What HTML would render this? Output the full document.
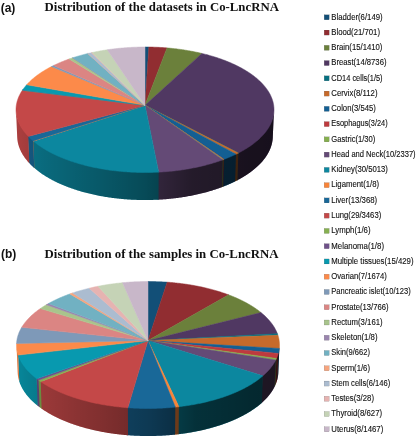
<!DOCTYPE html>
<html><head><meta charset="utf-8"><style>
html,body{margin:0;padding:0;background:#fff;}
body{width:417px;height:440px;overflow:hidden;}
svg{display:block;will-change:transform;}
</style></head><body>
<svg width="417" height="440" viewBox="0 0 417 440">
<defs><linearGradient id="shA" gradientUnits="userSpaceOnUse" x1="16.03" y1="0" x2="273.97" y2="0"><stop offset="0.0000" stop-color="#000" stop-opacity="0.129"/><stop offset="0.0000" stop-color="#000" stop-opacity="0.129"/><stop offset="0.0000" stop-color="#000" stop-opacity="0.129"/><stop offset="0.0000" stop-color="#000" stop-opacity="0.129"/><stop offset="0.0002" stop-color="#000" stop-opacity="0.129"/><stop offset="0.0011" stop-color="#000" stop-opacity="0.131"/><stop offset="0.0026" stop-color="#000" stop-opacity="0.132"/><stop offset="0.0047" stop-color="#000" stop-opacity="0.134"/><stop offset="0.0075" stop-color="#000" stop-opacity="0.135"/><stop offset="0.0109" stop-color="#000" stop-opacity="0.137"/><stop offset="0.0149" stop-color="#000" stop-opacity="0.138"/><stop offset="0.0196" stop-color="#000" stop-opacity="0.140"/><stop offset="0.0248" stop-color="#000" stop-opacity="0.147"/><stop offset="0.0307" stop-color="#000" stop-opacity="0.155"/><stop offset="0.0372" stop-color="#000" stop-opacity="0.162"/><stop offset="0.0444" stop-color="#000" stop-opacity="0.169"/><stop offset="0.0521" stop-color="#000" stop-opacity="0.177"/><stop offset="0.0604" stop-color="#000" stop-opacity="0.184"/><stop offset="0.0693" stop-color="#000" stop-opacity="0.191"/><stop offset="0.0789" stop-color="#000" stop-opacity="0.199"/><stop offset="0.0889" stop-color="#000" stop-opacity="0.206"/><stop offset="0.0996" stop-color="#000" stop-opacity="0.213"/><stop offset="0.1108" stop-color="#000" stop-opacity="0.221"/><stop offset="0.1226" stop-color="#000" stop-opacity="0.228"/><stop offset="0.1348" stop-color="#000" stop-opacity="0.235"/><stop offset="0.1476" stop-color="#000" stop-opacity="0.243"/><stop offset="0.1609" stop-color="#000" stop-opacity="0.250"/><stop offset="0.1747" stop-color="#000" stop-opacity="0.259"/><stop offset="0.1889" stop-color="#000" stop-opacity="0.268"/><stop offset="0.2036" stop-color="#000" stop-opacity="0.277"/><stop offset="0.2187" stop-color="#000" stop-opacity="0.286"/><stop offset="0.2342" stop-color="#000" stop-opacity="0.295"/><stop offset="0.2502" stop-color="#000" stop-opacity="0.304"/><stop offset="0.2664" stop-color="#000" stop-opacity="0.313"/><stop offset="0.2830" stop-color="#000" stop-opacity="0.322"/><stop offset="0.3000" stop-color="#000" stop-opacity="0.331"/><stop offset="0.3172" stop-color="#000" stop-opacity="0.340"/><stop offset="0.3347" stop-color="#000" stop-opacity="0.351"/><stop offset="0.3524" stop-color="#000" stop-opacity="0.362"/><stop offset="0.3704" stop-color="#000" stop-opacity="0.373"/><stop offset="0.3885" stop-color="#000" stop-opacity="0.384"/><stop offset="0.4069" stop-color="#000" stop-opacity="0.395"/><stop offset="0.4253" stop-color="#000" stop-opacity="0.406"/><stop offset="0.4439" stop-color="#000" stop-opacity="0.417"/><stop offset="0.4626" stop-color="#000" stop-opacity="0.428"/><stop offset="0.4813" stop-color="#000" stop-opacity="0.439"/><stop offset="0.5000" stop-color="#000" stop-opacity="0.450"/><stop offset="0.5187" stop-color="#000" stop-opacity="0.469"/><stop offset="0.5374" stop-color="#000" stop-opacity="0.488"/><stop offset="0.5561" stop-color="#000" stop-opacity="0.507"/><stop offset="0.5747" stop-color="#000" stop-opacity="0.526"/><stop offset="0.5931" stop-color="#000" stop-opacity="0.545"/><stop offset="0.6115" stop-color="#000" stop-opacity="0.564"/><stop offset="0.6296" stop-color="#000" stop-opacity="0.583"/><stop offset="0.6476" stop-color="#000" stop-opacity="0.602"/><stop offset="0.6653" stop-color="#000" stop-opacity="0.621"/><stop offset="0.6828" stop-color="#000" stop-opacity="0.640"/><stop offset="0.7000" stop-color="#000" stop-opacity="0.644"/><stop offset="0.7170" stop-color="#000" stop-opacity="0.648"/><stop offset="0.7336" stop-color="#000" stop-opacity="0.652"/><stop offset="0.7498" stop-color="#000" stop-opacity="0.656"/><stop offset="0.7658" stop-color="#000" stop-opacity="0.660"/><stop offset="0.7813" stop-color="#000" stop-opacity="0.664"/><stop offset="0.7964" stop-color="#000" stop-opacity="0.668"/><stop offset="0.8111" stop-color="#000" stop-opacity="0.672"/><stop offset="0.8253" stop-color="#000" stop-opacity="0.676"/><stop offset="0.8391" stop-color="#000" stop-opacity="0.680"/><stop offset="0.8524" stop-color="#000" stop-opacity="0.684"/><stop offset="0.8652" stop-color="#000" stop-opacity="0.688"/><stop offset="0.8774" stop-color="#000" stop-opacity="0.692"/><stop offset="0.8892" stop-color="#000" stop-opacity="0.696"/><stop offset="0.9004" stop-color="#000" stop-opacity="0.700"/><stop offset="0.9111" stop-color="#000" stop-opacity="0.701"/><stop offset="0.9211" stop-color="#000" stop-opacity="0.702"/><stop offset="0.9307" stop-color="#000" stop-opacity="0.703"/><stop offset="0.9396" stop-color="#000" stop-opacity="0.703"/><stop offset="0.9479" stop-color="#000" stop-opacity="0.704"/><stop offset="0.9556" stop-color="#000" stop-opacity="0.705"/><stop offset="0.9628" stop-color="#000" stop-opacity="0.706"/><stop offset="0.9693" stop-color="#000" stop-opacity="0.707"/><stop offset="0.9752" stop-color="#000" stop-opacity="0.708"/><stop offset="0.9804" stop-color="#000" stop-opacity="0.709"/><stop offset="0.9851" stop-color="#000" stop-opacity="0.710"/><stop offset="0.9891" stop-color="#000" stop-opacity="0.710"/><stop offset="0.9925" stop-color="#000" stop-opacity="0.711"/><stop offset="0.9953" stop-color="#000" stop-opacity="0.712"/><stop offset="0.9974" stop-color="#000" stop-opacity="0.713"/><stop offset="0.9989" stop-color="#000" stop-opacity="0.714"/><stop offset="0.9998" stop-color="#000" stop-opacity="0.715"/><stop offset="1.0000" stop-color="#000" stop-opacity="0.715"/><stop offset="1.0000" stop-color="#000" stop-opacity="0.715"/><stop offset="1.0000" stop-color="#000" stop-opacity="0.715"/><stop offset="1.0000" stop-color="#000" stop-opacity="0.715"/><stop offset="1.0000" stop-color="#000" stop-opacity="0.715"/></linearGradient><linearGradient id="shB" gradientUnits="userSpaceOnUse" x1="16.53" y1="0" x2="279.47" y2="0"><stop offset="0.0000" stop-color="#000" stop-opacity="0.129"/><stop offset="0.0000" stop-color="#000" stop-opacity="0.129"/><stop offset="0.0000" stop-color="#000" stop-opacity="0.129"/><stop offset="0.0000" stop-color="#000" stop-opacity="0.129"/><stop offset="0.0002" stop-color="#000" stop-opacity="0.129"/><stop offset="0.0011" stop-color="#000" stop-opacity="0.131"/><stop offset="0.0027" stop-color="#000" stop-opacity="0.132"/><stop offset="0.0049" stop-color="#000" stop-opacity="0.134"/><stop offset="0.0077" stop-color="#000" stop-opacity="0.135"/><stop offset="0.0111" stop-color="#000" stop-opacity="0.137"/><stop offset="0.0151" stop-color="#000" stop-opacity="0.138"/><stop offset="0.0198" stop-color="#000" stop-opacity="0.140"/><stop offset="0.0251" stop-color="#000" stop-opacity="0.147"/><stop offset="0.0310" stop-color="#000" stop-opacity="0.155"/><stop offset="0.0375" stop-color="#000" stop-opacity="0.162"/><stop offset="0.0447" stop-color="#000" stop-opacity="0.169"/><stop offset="0.0524" stop-color="#000" stop-opacity="0.177"/><stop offset="0.0608" stop-color="#000" stop-opacity="0.184"/><stop offset="0.0697" stop-color="#000" stop-opacity="0.191"/><stop offset="0.0792" stop-color="#000" stop-opacity="0.199"/><stop offset="0.0893" stop-color="#000" stop-opacity="0.206"/><stop offset="0.1000" stop-color="#000" stop-opacity="0.213"/><stop offset="0.1112" stop-color="#000" stop-opacity="0.221"/><stop offset="0.1230" stop-color="#000" stop-opacity="0.228"/><stop offset="0.1352" stop-color="#000" stop-opacity="0.235"/><stop offset="0.1480" stop-color="#000" stop-opacity="0.243"/><stop offset="0.1613" stop-color="#000" stop-opacity="0.250"/><stop offset="0.1751" stop-color="#000" stop-opacity="0.259"/><stop offset="0.1893" stop-color="#000" stop-opacity="0.268"/><stop offset="0.2040" stop-color="#000" stop-opacity="0.277"/><stop offset="0.2191" stop-color="#000" stop-opacity="0.286"/><stop offset="0.2346" stop-color="#000" stop-opacity="0.295"/><stop offset="0.2505" stop-color="#000" stop-opacity="0.304"/><stop offset="0.2668" stop-color="#000" stop-opacity="0.313"/><stop offset="0.2834" stop-color="#000" stop-opacity="0.322"/><stop offset="0.3003" stop-color="#000" stop-opacity="0.331"/><stop offset="0.3175" stop-color="#000" stop-opacity="0.340"/><stop offset="0.3350" stop-color="#000" stop-opacity="0.351"/><stop offset="0.3527" stop-color="#000" stop-opacity="0.362"/><stop offset="0.3706" stop-color="#000" stop-opacity="0.373"/><stop offset="0.3887" stop-color="#000" stop-opacity="0.384"/><stop offset="0.4070" stop-color="#000" stop-opacity="0.395"/><stop offset="0.4254" stop-color="#000" stop-opacity="0.406"/><stop offset="0.4440" stop-color="#000" stop-opacity="0.417"/><stop offset="0.4626" stop-color="#000" stop-opacity="0.428"/><stop offset="0.4813" stop-color="#000" stop-opacity="0.439"/><stop offset="0.5000" stop-color="#000" stop-opacity="0.450"/><stop offset="0.5187" stop-color="#000" stop-opacity="0.469"/><stop offset="0.5374" stop-color="#000" stop-opacity="0.488"/><stop offset="0.5560" stop-color="#000" stop-opacity="0.507"/><stop offset="0.5746" stop-color="#000" stop-opacity="0.526"/><stop offset="0.5930" stop-color="#000" stop-opacity="0.545"/><stop offset="0.6113" stop-color="#000" stop-opacity="0.564"/><stop offset="0.6294" stop-color="#000" stop-opacity="0.583"/><stop offset="0.6473" stop-color="#000" stop-opacity="0.602"/><stop offset="0.6650" stop-color="#000" stop-opacity="0.621"/><stop offset="0.6825" stop-color="#000" stop-opacity="0.640"/><stop offset="0.6997" stop-color="#000" stop-opacity="0.644"/><stop offset="0.7166" stop-color="#000" stop-opacity="0.648"/><stop offset="0.7332" stop-color="#000" stop-opacity="0.652"/><stop offset="0.7495" stop-color="#000" stop-opacity="0.656"/><stop offset="0.7654" stop-color="#000" stop-opacity="0.660"/><stop offset="0.7809" stop-color="#000" stop-opacity="0.664"/><stop offset="0.7960" stop-color="#000" stop-opacity="0.668"/><stop offset="0.8107" stop-color="#000" stop-opacity="0.672"/><stop offset="0.8249" stop-color="#000" stop-opacity="0.676"/><stop offset="0.8387" stop-color="#000" stop-opacity="0.680"/><stop offset="0.8520" stop-color="#000" stop-opacity="0.684"/><stop offset="0.8648" stop-color="#000" stop-opacity="0.688"/><stop offset="0.8770" stop-color="#000" stop-opacity="0.692"/><stop offset="0.8888" stop-color="#000" stop-opacity="0.696"/><stop offset="0.9000" stop-color="#000" stop-opacity="0.700"/><stop offset="0.9107" stop-color="#000" stop-opacity="0.701"/><stop offset="0.9208" stop-color="#000" stop-opacity="0.702"/><stop offset="0.9303" stop-color="#000" stop-opacity="0.703"/><stop offset="0.9392" stop-color="#000" stop-opacity="0.703"/><stop offset="0.9476" stop-color="#000" stop-opacity="0.704"/><stop offset="0.9553" stop-color="#000" stop-opacity="0.705"/><stop offset="0.9625" stop-color="#000" stop-opacity="0.706"/><stop offset="0.9690" stop-color="#000" stop-opacity="0.707"/><stop offset="0.9749" stop-color="#000" stop-opacity="0.708"/><stop offset="0.9802" stop-color="#000" stop-opacity="0.709"/><stop offset="0.9849" stop-color="#000" stop-opacity="0.710"/><stop offset="0.9889" stop-color="#000" stop-opacity="0.710"/><stop offset="0.9923" stop-color="#000" stop-opacity="0.711"/><stop offset="0.9951" stop-color="#000" stop-opacity="0.712"/><stop offset="0.9973" stop-color="#000" stop-opacity="0.713"/><stop offset="0.9989" stop-color="#000" stop-opacity="0.714"/><stop offset="0.9998" stop-color="#000" stop-opacity="0.715"/><stop offset="1.0000" stop-color="#000" stop-opacity="0.715"/><stop offset="1.0000" stop-color="#000" stop-opacity="0.715"/><stop offset="1.0000" stop-color="#000" stop-opacity="0.715"/><stop offset="1.0000" stop-color="#000" stop-opacity="0.715"/><stop offset="1.0000" stop-color="#000" stop-opacity="0.715"/></linearGradient></defs>
<rect width="417" height="440" fill="#fff"/>
<g style="font-family:'Liberation Sans',sans-serif;font-weight:bold;font-size:12px" fill="#111">
<text x="0.7" y="12.2">(a)</text>
<text x="1" y="257.5">(b)</text>
</g>
<g style="font-family:'Liberation Serif',serif;font-weight:bold;font-size:13.4px" fill="#111">
<text x="44.6" y="10.8" textLength="234.3" lengthAdjust="spacingAndGlyphs">Distribution of the datasets in Co-LncRNA</text>
<text x="44.6" y="257.8" textLength="233.9" lengthAdjust="spacingAndGlyphs">Distribution of the samples in Co-LncRNA</text>
</g>
<g>
<path d="M273.97,109.93 L273.94,110.47 L273.9,111.02 L273.85,111.56 L273.79,112.1 L273.72,112.65 L273.65,113.19 L273.56,113.74 L273.46,114.28 L273.35,114.82 L273.24,115.37 L273.11,115.91 L272.97,116.46 L272.83,117 L272.67,117.54 L272.5,118.08 L272.33,118.63 L272.14,119.17 L271.94,119.71 L271.74,120.25 L271.52,120.79 L271.3,121.33 L271.06,121.87 L270.82,122.41 L270.56,122.94 L270.3,123.48 L270.02,124.01 L269.74,124.55 L269.44,125.08 L269.14,125.62 L268.82,126.15 L268.5,126.68 L268.17,127.21 L267.82,127.74 L267.47,128.26 L267.1,128.79 L266.73,129.32 L266.35,129.84 L265.96,130.36 L265.55,130.88 L265.14,131.4 L264.72,131.92 L264.29,132.44 L263.85,132.95 L263.4,133.46 L262.94,133.97 L262.47,134.48 L261.99,134.99 L261.5,135.5 L261,136 L260.49,136.5 L259.98,137 L259.45,137.5 L258.91,138 L258.37,138.49 L257.81,138.98 L257.25,139.47 L256.67,139.96 L256.09,140.45 L255.5,140.93 L254.9,141.41 L254.29,141.89 L253.67,142.37 L253.04,142.84 L252.4,143.31 L251.75,143.78 L251.1,144.24 L250.43,144.71 L249.76,145.17 L249.08,145.63 L248.38,146.08 L247.68,146.53 L246.98,146.98 L246.26,147.43 L245.53,147.87 L244.8,148.31 L244.05,148.75 L243.3,149.18 L242.54,149.61 L241.78,150.04 L241,150.47 L240.21,150.89 L239.42,151.31 L238.62,151.72 L237.81,152.13 L236.92,180.47 L237.72,180.05 L238.51,179.62 L239.3,179.2 L240.07,178.77 L240.84,178.33 L241.6,177.9 L242.36,177.46 L243.1,177.02 L243.84,176.57 L244.57,176.12 L245.29,175.67 L246,175.22 L246.7,174.76 L247.39,174.3 L248.08,173.83 L248.75,173.37 L249.42,172.9 L250.08,172.43 L250.73,171.95 L251.37,171.47 L252,170.99 L252.63,170.51 L253.24,170.03 L253.85,169.54 L254.44,169.05 L255.03,168.56 L255.61,168.06 L256.18,167.56 L256.74,167.06 L257.29,166.56 L257.83,166.06 L258.36,165.55 L258.88,165.04 L259.4,164.53 L259.9,164.02 L260.39,163.51 L260.88,162.99 L261.36,162.47 L261.82,161.95 L262.28,161.43 L262.72,160.91 L263.16,160.39 L263.59,159.86 L264.01,159.33 L264.42,158.8 L264.82,158.27 L265.21,157.74 L265.59,157.2 L265.96,156.67 L266.32,156.13 L266.67,155.59 L267.01,155.06 L267.34,154.51 L267.66,153.97 L267.97,153.43 L268.28,152.89 L268.57,152.34 L268.85,151.8 L269.12,151.25 L269.39,150.7 L269.64,150.16 L269.88,149.61 L270.12,149.06 L270.34,148.51 L270.56,147.96 L270.76,147.41 L270.96,146.85 L271.14,146.3 L271.32,145.75 L271.48,145.2 L271.64,144.64 L271.78,144.09 L271.92,143.53 L272.05,142.98 L272.16,142.42 L272.27,141.87 L272.37,141.31 L272.46,140.76 L272.53,140.2 L272.6,139.65 L272.66,139.09 L272.71,138.54 L272.75,137.98 L272.78,137.43 Z" fill="#503862"/>
<path d="M238.47,151.8 L237.71,152.18 L236.81,180.52 L237.56,180.13 Z" fill="#077080"/>
<path d="M238.37,151.85 L237.63,152.22 L236.89,152.59 L236.14,152.96 L235.39,153.32 L234.52,181.68 L235.26,181.31 L236,180.93 L236.74,180.56 L237.46,180.18 Z" fill="#c66a2b"/>
<path d="M236.06,153 L235.26,153.38 L234.44,153.77 L233.62,154.15 L232.8,154.52 L231.96,154.9 L231.12,155.27 L230.27,155.63 L229.42,156 L228.56,156.36 L227.69,156.71 L226.81,157.07 L225.93,157.42 L225.04,157.76 L224.14,158.1 L223.24,158.44 L222.48,186.9 L223.38,186.55 L224.26,186.2 L225.14,185.85 L226.02,185.5 L226.89,185.14 L227.75,184.77 L228.6,184.41 L229.45,184.04 L230.29,183.66 L231.12,183.29 L231.95,182.9 L232.77,182.52 L233.58,182.13 L234.39,181.74 L235.18,181.35 Z" fill="#135f93"/>
<path d="M224,158.16 L223.34,158.4 L222.68,158.65 L221.92,187.11 L222.58,186.86 L223.23,186.61 Z" fill="#be3a3e"/>
<path d="M223.44,158.37 L222.7,158.64 L221.97,158.91 L221.22,187.37 L221.95,187.1 L222.67,186.82 Z" fill="#85af4e"/>
<path d="M222.73,158.63 L221.78,158.98 L220.82,159.32 L219.85,159.66 L218.88,159.99 L217.9,160.32 L216.92,160.64 L215.93,160.96 L214.93,161.28 L213.92,161.59 L212.91,161.9 L211.89,162.2 L210.87,162.5 L209.84,162.8 L208.81,163.09 L207.77,163.37 L206.72,163.65 L205.67,163.93 L204.61,164.2 L203.55,164.46 L202.48,164.73 L201.41,164.98 L200.33,165.24 L199.24,165.48 L198.16,165.72 L197.06,165.96 L195.96,166.2 L194.86,166.42 L193.75,166.65 L192.64,166.86 L191.53,167.08 L190.41,167.28 L189.28,167.49 L188.15,167.68 L187.02,167.88 L185.88,168.07 L184.74,168.25 L183.6,168.43 L182.45,168.6 L181.3,168.76 L180.15,168.93 L178.99,169.08 L177.83,169.23 L176.66,169.38 L175.5,169.52 L174.33,169.66 L173.16,169.79 L171.98,169.91 L170.8,170.03 L169.62,170.15 L168.44,170.26 L167.26,170.36 L166.07,170.46 L164.88,170.55 L163.69,170.64 L162.5,170.72 L161.31,170.8 L160.11,170.87 L158.92,170.93 L157.72,170.99 L157.59,199.69 L158.78,199.63 L159.96,199.56 L161.15,199.49 L162.33,199.41 L163.51,199.33 L164.69,199.24 L165.86,199.14 L167.04,199.04 L168.21,198.94 L169.38,198.82 L170.55,198.71 L171.71,198.59 L172.88,198.46 L174.04,198.33 L175.2,198.19 L176.35,198.04 L177.5,197.9 L178.65,197.74 L179.8,197.58 L180.94,197.42 L182.08,197.25 L183.22,197.07 L184.35,196.89 L185.48,196.7 L186.61,196.51 L187.73,196.32 L188.85,196.12 L189.96,195.91 L191.07,195.7 L192.18,195.48 L193.28,195.26 L194.37,195.03 L195.47,194.8 L196.55,194.56 L197.64,194.32 L198.71,194.07 L199.79,193.82 L200.86,193.56 L201.92,193.3 L202.98,193.04 L204.03,192.76 L205.08,192.49 L206.12,192.21 L207.15,191.92 L208.18,191.63 L209.21,191.34 L210.23,191.04 L211.24,190.73 L212.25,190.42 L213.25,190.11 L214.25,189.79 L215.23,189.47 L216.22,189.14 L217.19,188.81 L218.16,188.47 L219.13,188.13 L220.08,187.79 L221.03,187.44 L221.97,187.09 Z" fill="#644a76"/>
<path d="M158.68,170.95 L157.49,171.01 L156.29,171.06 L155.09,171.11 L153.9,171.15 L152.7,171.19 L151.5,171.22 L150.3,171.25 L149.1,171.27 L147.9,171.28 L146.7,171.29 L145.5,171.3 L144.3,171.3 L143.09,171.29 L141.89,171.28 L140.69,171.27 L139.49,171.24 L138.29,171.22 L137.09,171.18 L135.9,171.14 L134.7,171.1 L133.5,171.05 L132.31,171 L131.11,170.94 L129.92,170.87 L128.73,170.8 L127.54,170.72 L126.35,170.64 L125.16,170.55 L123.98,170.46 L122.8,170.36 L121.61,170.26 L120.44,170.15 L119.26,170.04 L118.08,169.92 L116.91,169.79 L115.74,169.66 L114.58,169.53 L113.41,169.39 L112.25,169.24 L111.1,169.09 L109.94,168.94 L108.79,168.78 L107.64,168.61 L106.5,168.44 L105.36,168.26 L104.22,168.08 L103.09,167.9 L101.96,167.7 L100.83,167.51 L99.71,167.31 L98.59,167.1 L97.48,166.89 L96.37,166.67 L95.26,166.45 L94.16,166.22 L93.07,165.99 L91.98,165.75 L90.89,165.51 L89.81,165.27 L88.73,165.02 L87.66,164.76 L86.6,164.5 L85.54,164.24 L84.48,163.97 L83.43,163.69 L82.39,163.41 L81.35,163.13 L80.32,162.84 L79.29,162.55 L78.27,162.25 L77.25,161.95 L76.24,161.64 L75.24,161.33 L74.24,161.02 L73.25,160.7 L72.27,160.38 L71.29,160.05 L70.32,159.72 L69.36,159.38 L68.4,159.04 L67.45,158.7 L66.51,158.35 L65.57,157.99 L64.64,157.64 L63.72,157.28 L62.8,156.91 L61.9,156.54 L60.99,156.17 L60.1,155.79 L59.22,155.41 L58.34,155.03 L57.47,154.64 L56.6,154.25 L55.75,153.86 L54.9,153.46 L54.06,153.06 L53.23,152.65 L52.41,152.24 L51.59,151.83 L50.78,151.41 L49.99,150.99 L49.19,150.57 L48.41,150.14 L47.64,149.72 L46.87,149.28 L46.12,148.85 L45.37,148.41 L44.63,147.97 L43.89,147.52 L43.17,147.07 L42.46,146.62 L41.75,146.17 L41.06,145.71 L40.37,145.25 L39.69,144.79 L39.02,144.33 L38.36,143.86 L37.71,143.39 L37.06,142.92 L36.43,142.44 L35.81,141.96 L35.19,141.48 L34.59,141 L33.99,140.51 L33.4,140.03 L32.82,139.54 L33.89,167.63 L34.47,168.12 L35.05,168.62 L35.64,169.12 L36.24,169.61 L36.85,170.1 L37.47,170.59 L38.1,171.07 L38.73,171.55 L39.38,172.03 L40.03,172.51 L40.7,172.98 L41.37,173.45 L42.05,173.92 L42.74,174.39 L43.44,174.85 L44.15,175.31 L44.87,175.77 L45.59,176.22 L46.32,176.67 L47.07,177.12 L47.82,177.56 L48.58,178 L49.34,178.44 L50.12,178.87 L50.9,179.31 L51.69,179.73 L52.49,180.16 L53.3,180.58 L54.12,180.99 L54.94,181.41 L55.77,181.82 L56.61,182.22 L57.46,182.63 L58.31,183.03 L59.18,183.42 L60.05,183.81 L60.92,184.2 L61.81,184.58 L62.7,184.96 L63.6,185.34 L64.51,185.71 L65.42,186.08 L66.34,186.44 L67.27,186.8 L68.2,187.16 L69.15,187.51 L70.09,187.85 L71.05,188.2 L72.01,188.53 L72.98,188.87 L73.95,189.2 L74.93,189.52 L75.92,189.84 L76.91,190.16 L77.91,190.47 L78.92,190.78 L79.93,191.08 L80.95,191.38 L81.97,191.67 L83,191.96 L84.03,192.25 L85.07,192.53 L86.12,192.8 L87.17,193.07 L88.22,193.34 L89.28,193.6 L90.35,193.85 L91.42,194.1 L92.5,194.35 L93.58,194.59 L94.66,194.83 L95.75,195.06 L96.84,195.28 L97.94,195.5 L99.05,195.72 L100.15,195.93 L101.26,196.14 L102.38,196.34 L103.5,196.53 L104.62,196.72 L105.75,196.91 L106.88,197.09 L108.01,197.26 L109.15,197.43 L110.29,197.59 L111.43,197.75 L112.58,197.91 L113.72,198.05 L114.88,198.2 L116.03,198.33 L117.19,198.47 L118.35,198.59 L119.51,198.71 L120.68,198.83 L121.84,198.94 L123.01,199.05 L124.18,199.15 L125.36,199.24 L126.53,199.33 L127.71,199.41 L128.89,199.49 L130.07,199.56 L131.25,199.63 L132.43,199.69 L133.62,199.75 L134.8,199.8 L135.99,199.84 L137.17,199.88 L138.36,199.91 L139.55,199.94 L140.74,199.96 L141.92,199.98 L143.11,199.99 L144.3,200 L145.49,200 L146.68,199.99 L147.87,199.98 L149.06,199.97 L150.25,199.95 L151.43,199.92 L152.62,199.89 L153.81,199.85 L154.99,199.8 L156.18,199.75 L157.36,199.7 L158.55,199.64 Z" fill="#0c879f"/>
<path d="M33.29,139.93 L32.71,139.44 L33.78,167.53 L34.35,168.03 Z" fill="#f88439"/>
<path d="M33.17,139.83 L32.6,139.34 L32.03,138.85 L31.48,138.35 L30.93,137.86 L30.4,137.36 L29.87,136.86 L29.35,136.35 L28.85,135.85 L28.35,135.34 L27.86,134.83 L28.97,162.83 L29.45,163.35 L29.95,163.87 L30.45,164.38 L30.96,164.89 L31.49,165.4 L32.02,165.91 L32.56,166.42 L33.11,166.93 L33.67,167.43 L34.24,167.93 Z" fill="#196898"/>
<path d="M28.25,135.24 L27.76,134.73 L27.28,134.22 L26.81,133.7 L26.35,133.18 L25.9,132.66 L25.46,132.14 L25.03,131.62 L24.61,131.1 L24.2,130.57 L23.8,130.04 L23.41,129.51 L23.03,128.98 L22.66,128.45 L22.3,127.92 L21.95,127.39 L21.61,126.85 L21.28,126.32 L20.96,125.78 L20.65,125.24 L20.35,124.7 L20.06,124.16 L19.78,123.62 L19.51,123.08 L19.24,122.54 L18.99,121.99 L18.75,121.45 L18.52,120.9 L18.3,120.36 L18.09,119.81 L17.89,119.26 L17.7,118.72 L17.52,118.17 L17.36,117.62 L17.2,117.07 L17.05,116.52 L16.91,115.98 L16.78,115.43 L16.66,114.88 L16.55,114.33 L16.45,113.78 L16.36,113.23 L16.28,112.68 L16.21,112.13 L16.15,111.58 L16.1,111.03 L16.06,110.48 L16.03,109.93 L17.22,137.43 L17.25,137.99 L17.29,138.55 L17.34,139.11 L17.4,139.67 L17.47,140.23 L17.55,140.79 L17.64,141.36 L17.74,141.92 L17.85,142.48 L17.97,143.04 L18.1,143.6 L18.23,144.16 L18.38,144.72 L18.54,145.28 L18.71,145.84 L18.89,146.39 L19.08,146.95 L19.28,147.51 L19.49,148.07 L19.7,148.62 L19.93,149.18 L20.17,149.74 L20.42,150.29 L20.68,150.84 L20.95,151.4 L21.23,151.95 L21.51,152.5 L21.81,153.05 L22.12,153.6 L22.44,154.15 L22.77,154.69 L23.11,155.24 L23.45,155.78 L23.81,156.32 L24.18,156.87 L24.56,157.41 L24.95,157.95 L25.34,158.48 L25.75,159.02 L26.17,159.55 L26.59,160.09 L27.03,160.62 L27.48,161.15 L27.93,161.68 L28.4,162.2 L28.87,162.73 L29.36,163.25 Z" fill="#c44848"/>
<path d="M273.97,109.93 L273.94,110.48 L273.9,111.03 L273.85,111.58 L273.79,112.13 L273.72,112.68 L273.64,113.23 L273.55,113.78 L273.45,114.33 L273.34,114.88 L273.22,115.43 L273.09,115.98 L272.95,116.52 L272.8,117.07 L272.64,117.62 L272.47,118.17 L272.3,118.72 L272.11,119.27 L271.91,119.81 L271.7,120.36 L271.48,120.9 L271.25,121.45 L271.01,121.99 L270.75,122.54 L270.49,123.08 L270.22,123.62 L269.94,124.16 L269.65,124.7 L269.35,125.24 L269.04,125.78 L268.72,126.32 L268.39,126.85 L268.05,127.39 L267.7,127.92 L267.34,128.45 L266.97,128.99 L266.59,129.52 L266.2,130.04 L265.8,130.57 L265.39,131.1 L264.96,131.62 L264.53,132.14 L264.09,132.66 L263.64,133.18 L263.18,133.7 L262.71,134.22 L262.23,134.73 L261.75,135.24 L261.25,135.75 L260.74,136.26 L260.22,136.77 L259.69,137.27 L259.15,137.78 L258.61,138.28 L258.05,138.78 L257.48,139.27 L256.91,139.76 L256.32,140.26 L255.73,140.75 L255.12,141.23 L254.51,141.72 L253.89,142.2 L253.25,142.68 L252.61,143.15 L251.96,143.63 L251.3,144.1 L250.63,144.57 L249.95,145.03 L249.27,145.5 L248.57,145.96 L247.87,146.42 L247.15,146.87 L246.43,147.32 L245.7,147.77 L244.96,148.22 L244.21,148.66 L243.45,149.1 L242.68,149.53 L241.91,149.97 L241.12,150.4 L240.33,150.82 L239.53,151.25 L238.72,151.67 L237.91,152.08 L237.08,152.5 L236.25,152.9 L235.41,153.31 L234.56,153.71 L233.7,154.11 L232.84,154.51 L231.97,154.9 L231.09,155.28 L230.2,155.67 L229.3,156.05 L228.4,156.42 L227.49,156.79 L226.57,157.16 L225.65,157.53 L224.71,157.89 L223.77,158.24 L222.83,158.59 L221.87,158.94 L220.91,159.28 L219.94,159.62 L218.97,159.96 L217.99,160.29 L217,160.62 L216.01,160.94 L215.01,161.26 L214,161.57 L212.99,161.88 L211.97,162.18 L210.94,162.48 L209.91,162.78 L208.88,163.07 L207.83,163.35 L206.78,163.63 L205.73,163.91 L204.67,164.18 L203.6,164.45 L202.53,164.71 L201.46,164.97 L200.38,165.22 L199.29,165.47 L198.2,165.72 L197.1,165.95 L196,166.19 L194.9,166.42 L193.79,166.64 L192.67,166.86 L191.55,167.07 L190.43,167.28 L189.3,167.48 L188.17,167.68 L187.04,167.88 L185.9,168.06 L184.75,168.25 L183.61,168.42 L182.46,168.6 L181.3,168.76 L180.14,168.93 L178.98,169.08 L177.82,169.24 L176.65,169.38 L175.48,169.52 L174.31,169.66 L173.14,169.79 L171.96,169.91 L170.78,170.03 L169.59,170.15 L168.41,170.26 L167.22,170.36 L166.03,170.46 L164.84,170.55 L163.65,170.64 L162.45,170.72 L161.26,170.8 L160.06,170.87 L158.86,170.94 L157.66,171 L156.46,171.05 L155.25,171.1 L154.05,171.15 L152.84,171.18 L151.64,171.22 L150.43,171.24 L149.23,171.27 L148.02,171.28 L146.81,171.29 L145.6,171.3 L144.4,171.3 L143.19,171.29 L141.98,171.28 L140.77,171.27 L139.57,171.24 L138.36,171.22 L137.16,171.18 L135.95,171.15 L134.75,171.1 L133.54,171.05 L132.34,171 L131.14,170.94 L129.94,170.87 L128.74,170.8 L127.55,170.72 L126.35,170.64 L125.16,170.55 L123.97,170.46 L122.78,170.36 L121.59,170.26 L120.41,170.15 L119.22,170.03 L118.04,169.91 L116.86,169.79 L115.69,169.66 L114.52,169.52 L113.35,169.38 L112.18,169.24 L111.02,169.08 L109.86,168.93 L108.7,168.76 L107.54,168.6 L106.39,168.42 L105.25,168.25 L104.1,168.06 L102.96,167.88 L101.83,167.68 L100.7,167.48 L99.57,167.28 L98.45,167.07 L97.33,166.86 L96.21,166.64 L95.1,166.42 L94,166.19 L92.9,165.95 L91.8,165.72 L90.71,165.47 L89.62,165.22 L88.54,164.97 L87.47,164.71 L86.4,164.45 L85.33,164.18 L84.27,163.91 L83.22,163.63 L82.17,163.35 L81.12,163.07 L80.09,162.78 L79.06,162.48 L78.03,162.18 L77.01,161.88 L76,161.57 L74.99,161.26 L73.99,160.94 L73,160.62 L72.01,160.29 L71.03,159.96 L70.06,159.62 L69.09,159.28 L68.13,158.94 L67.17,158.59 L66.23,158.24 L65.29,157.89 L64.35,157.53 L63.43,157.16 L62.51,156.79 L61.6,156.42 L60.7,156.05 L59.8,155.67 L58.91,155.28 L58.03,154.9 L57.16,154.51 L56.3,154.11 L55.44,153.71 L54.59,153.31 L53.75,152.9 L52.92,152.5 L52.09,152.08 L51.28,151.67 L50.47,151.25 L49.67,150.82 L48.88,150.4 L48.09,149.97 L47.32,149.53 L46.55,149.1 L45.79,148.66 L45.04,148.22 L44.3,147.77 L43.57,147.32 L42.85,146.87 L42.13,146.42 L41.43,145.96 L40.73,145.5 L40.05,145.03 L39.37,144.57 L38.7,144.1 L38.04,143.63 L37.39,143.15 L36.75,142.68 L36.11,142.2 L35.49,141.72 L34.88,141.23 L34.27,140.75 L33.68,140.26 L33.09,139.76 L32.52,139.27 L31.95,138.78 L31.39,138.28 L30.85,137.78 L30.31,137.27 L29.78,136.77 L29.26,136.26 L28.75,135.75 L28.25,135.24 L27.77,134.73 L27.29,134.22 L26.82,133.7 L26.36,133.18 L25.91,132.66 L25.47,132.14 L25.04,131.62 L24.61,131.1 L24.2,130.57 L23.8,130.04 L23.41,129.52 L23.03,128.99 L22.66,128.45 L22.3,127.92 L21.95,127.39 L21.61,126.85 L21.28,126.32 L20.96,125.78 L20.65,125.24 L20.35,124.7 L20.06,124.16 L19.78,123.62 L19.51,123.08 L19.25,122.54 L18.99,121.99 L18.75,121.45 L18.52,120.9 L18.3,120.36 L18.09,119.81 L17.89,119.27 L17.7,118.72 L17.53,118.17 L17.36,117.62 L17.2,117.07 L17.05,116.52 L16.91,115.98 L16.78,115.43 L16.66,114.88 L16.55,114.33 L16.45,113.78 L16.36,113.23 L16.28,112.68 L16.21,112.13 L16.15,111.58 L16.1,111.03 L16.06,110.48 L16.03,109.93 L17.22,137.43 L17.25,137.99 L17.29,138.55 L17.34,139.11 L17.4,139.67 L17.47,140.23 L17.55,140.79 L17.64,141.36 L17.74,141.92 L17.85,142.48 L17.97,143.04 L18.1,143.6 L18.23,144.16 L18.38,144.72 L18.54,145.28 L18.71,145.84 L18.89,146.4 L19.08,146.95 L19.28,147.51 L19.49,148.07 L19.7,148.63 L19.93,149.18 L20.17,149.74 L20.42,150.29 L20.68,150.84 L20.95,151.4 L21.23,151.95 L21.51,152.5 L21.81,153.05 L22.12,153.6 L22.44,154.15 L22.77,154.69 L23.11,155.24 L23.45,155.78 L23.81,156.33 L24.18,156.87 L24.56,157.41 L24.95,157.95 L25.34,158.48 L25.75,159.02 L26.17,159.55 L26.59,160.09 L27.03,160.62 L27.48,161.15 L27.93,161.68 L28.4,162.2 L28.88,162.73 L29.36,163.25 L29.86,163.77 L30.36,164.29 L30.87,164.8 L31.4,165.32 L31.93,165.83 L32.47,166.34 L33.03,166.85 L33.59,167.36 L34.16,167.86 L34.74,168.36 L35.33,168.86 L35.93,169.35 L36.54,169.85 L37.15,170.34 L37.78,170.83 L38.42,171.31 L39.06,171.8 L39.72,172.28 L40.38,172.76 L41.05,173.23 L41.73,173.7 L42.42,174.17 L43.12,174.64 L43.83,175.1 L44.55,175.56 L45.27,176.02 L46,176.48 L46.75,176.93 L47.5,177.37 L48.26,177.82 L49.03,178.26 L49.8,178.7 L50.59,179.13 L51.38,179.56 L52.18,179.99 L52.99,180.42 L53.81,180.84 L54.63,181.25 L55.46,181.67 L56.31,182.08 L57.15,182.48 L58.01,182.89 L58.88,183.28 L59.75,183.68 L60.63,184.07 L61.52,184.46 L62.41,184.84 L63.31,185.22 L64.22,185.59 L65.14,185.96 L66.06,186.33 L66.99,186.69 L67.93,187.05 L68.87,187.41 L69.83,187.76 L70.78,188.1 L71.75,188.44 L72.72,188.78 L73.7,189.11 L74.68,189.44 L75.67,189.76 L76.67,190.08 L77.67,190.4 L78.68,190.71 L79.7,191.01 L80.72,191.31 L81.75,191.61 L82.78,191.9 L83.82,192.19 L84.86,192.47 L85.91,192.75 L86.97,193.02 L88.03,193.29 L89.09,193.55 L90.16,193.81 L91.24,194.06 L92.32,194.31 L93.41,194.55 L94.5,194.79 L95.59,195.02 L96.69,195.25 L97.79,195.47 L98.9,195.69 L100.02,195.9 L101.13,196.11 L102.25,196.31 L103.38,196.51 L104.51,196.7 L105.64,196.89 L106.77,197.07 L107.91,197.25 L109.06,197.42 L110.2,197.58 L111.35,197.74 L112.5,197.9 L113.66,198.05 L114.82,198.19 L115.98,198.33 L117.14,198.46 L118.31,198.59 L119.48,198.71 L120.65,198.83 L121.82,198.94 L123,199.04 L124.17,199.14 L125.35,199.24 L126.54,199.33 L127.72,199.41 L128.9,199.49 L130.09,199.56 L131.28,199.63 L132.47,199.69 L133.66,199.75 L134.85,199.8 L136.04,199.84 L137.23,199.88 L138.43,199.92 L139.62,199.94 L140.82,199.97 L142.01,199.98 L143.21,199.99 L144.4,200 L145.6,200 L146.79,199.99 L147.99,199.98 L149.18,199.97 L150.38,199.94 L151.57,199.92 L152.77,199.88 L153.96,199.84 L155.15,199.8 L156.34,199.75 L157.53,199.69 L158.72,199.63 L159.91,199.56 L161.1,199.49 L162.28,199.41 L163.46,199.33 L164.65,199.24 L165.83,199.14 L167,199.04 L168.18,198.94 L169.35,198.83 L170.52,198.71 L171.69,198.59 L172.86,198.46 L174.02,198.33 L175.18,198.19 L176.34,198.05 L177.5,197.9 L178.65,197.74 L179.8,197.58 L180.94,197.42 L182.09,197.25 L183.23,197.07 L184.36,196.89 L185.49,196.7 L186.62,196.51 L187.75,196.31 L188.87,196.11 L189.98,195.9 L191.1,195.69 L192.21,195.47 L193.31,195.25 L194.41,195.02 L195.5,194.79 L196.59,194.55 L197.68,194.31 L198.76,194.06 L199.84,193.81 L200.91,193.55 L201.97,193.29 L203.03,193.02 L204.09,192.75 L205.14,192.47 L206.18,192.19 L207.22,191.9 L208.25,191.61 L209.28,191.31 L210.3,191.01 L211.32,190.71 L212.33,190.4 L213.33,190.08 L214.33,189.76 L215.32,189.44 L216.3,189.11 L217.28,188.78 L218.25,188.44 L219.22,188.1 L220.17,187.76 L221.13,187.41 L222.07,187.05 L223.01,186.69 L223.94,186.33 L224.86,185.96 L225.78,185.59 L226.69,185.22 L227.59,184.84 L228.48,184.46 L229.37,184.07 L230.25,183.68 L231.12,183.28 L231.99,182.89 L232.85,182.48 L233.69,182.08 L234.54,181.67 L235.37,181.25 L236.19,180.84 L237.01,180.42 L237.82,179.99 L238.62,179.56 L239.41,179.13 L240.2,178.7 L240.97,178.26 L241.74,177.82 L242.5,177.37 L243.25,176.93 L244,176.48 L244.73,176.02 L245.45,175.56 L246.17,175.1 L246.88,174.64 L247.58,174.17 L248.27,173.7 L248.95,173.23 L249.62,172.76 L250.28,172.28 L250.94,171.8 L251.58,171.31 L252.22,170.83 L252.85,170.34 L253.46,169.85 L254.07,169.35 L254.67,168.86 L255.26,168.36 L255.84,167.86 L256.41,167.36 L256.97,166.85 L257.53,166.34 L258.07,165.83 L258.6,165.32 L259.13,164.8 L259.64,164.29 L260.14,163.77 L260.64,163.25 L261.12,162.73 L261.6,162.2 L262.07,161.68 L262.52,161.15 L262.97,160.62 L263.41,160.09 L263.83,159.55 L264.25,159.02 L264.66,158.48 L265.05,157.95 L265.44,157.41 L265.82,156.87 L266.19,156.33 L266.55,155.78 L266.89,155.24 L267.23,154.69 L267.56,154.15 L267.88,153.6 L268.19,153.05 L268.49,152.5 L268.77,151.95 L269.05,151.4 L269.32,150.84 L269.58,150.29 L269.83,149.74 L270.07,149.18 L270.3,148.63 L270.51,148.07 L270.72,147.51 L270.92,146.95 L271.11,146.4 L271.29,145.84 L271.46,145.28 L271.62,144.72 L271.77,144.16 L271.9,143.6 L272.03,143.04 L272.15,142.48 L272.26,141.92 L272.36,141.36 L272.45,140.79 L272.53,140.23 L272.6,139.67 L272.66,139.11 L272.71,138.55 L272.75,137.99 L272.78,137.43 Z" fill="url(#shA)"/>
<path d="M145,105.3 L145,47 L145.97,47 L146.94,47.01 L147.91,47.02 L148.88,47.03 Z" fill="#124f77" stroke="#124f77" stroke-width="0.5" stroke-linejoin="round"/>
<path d="M145,105.3 L148.88,47.03 L149.89,47.05 L150.9,47.07 L151.91,47.09 L152.93,47.12 L153.94,47.15 L154.95,47.19 L155.96,47.23 L156.97,47.27 L157.98,47.32 L158.99,47.37 L159.99,47.43 L161,47.48 L162.01,47.55 L163.01,47.61 L164.01,47.69 L165.02,47.76 L166.02,47.84 L167.02,47.92 Z" fill="#912d31" stroke="#912d31" stroke-width="0.5" stroke-linejoin="round"/>
<path d="M145,105.3 L167.02,47.92 L168.05,48.01 L169.08,48.1 L170.11,48.2 L171.14,48.3 L172.17,48.41 L173.2,48.52 L174.22,48.63 L175.24,48.75 L176.26,48.87 L177.28,49 L178.3,49.13 L179.31,49.26 L180.32,49.4 L181.33,49.54 L182.34,49.69 L183.35,49.84 L184.35,49.99 L185.35,50.15 L186.35,50.31 L187.35,50.48 L188.34,50.65 L189.33,50.82 L190.32,51 L191.3,51.18 L192.28,51.37 L193.26,51.56 L194.24,51.75 L195.21,51.95 L196.18,52.15 L197.15,52.36 L198.11,52.57 L199.07,52.78 L200.03,53 L200.98,53.22 L201.93,53.44 Z" fill="#6b803b" stroke="#6b803b" stroke-width="0.5" stroke-linejoin="round"/>
<path d="M145,105.3 L201.93,53.44 L202.88,53.67 L203.82,53.9 L204.76,54.14 L205.69,54.38 L206.62,54.62 L207.55,54.87 L208.47,55.12 L209.39,55.38 L210.31,55.64 L211.22,55.9 L212.13,56.16 L213.03,56.43 L213.93,56.71 L214.82,56.99 L215.71,57.27 L216.59,57.55 L217.47,57.84 L218.35,58.13 L219.22,58.43 L220.09,58.73 L220.95,59.03 L221.81,59.33 L222.66,59.64 L223.5,59.96 L224.35,60.27 L225.18,60.59 L226.01,60.92 L226.84,61.25 L227.66,61.58 L228.48,61.91 L229.29,62.25 L230.09,62.59 L230.89,62.93 L231.69,63.28 L232.48,63.63 L233.26,63.99 L234.04,64.34 L234.81,64.7 L235.57,65.07 L236.33,65.43 L237.08,65.81 L237.83,66.18 L238.57,66.56 L239.31,66.94 L240.04,67.32 L240.76,67.71 L241.48,68.09 L242.19,68.49 L242.89,68.88 L243.59,69.28 L244.28,69.68 L244.96,70.09 L245.64,70.49 L246.31,70.9 L246.97,71.32 L247.63,71.73 L248.28,72.15 L248.93,72.58 L249.56,73 L250.19,73.43 L250.81,73.86 L251.43,74.29 L252.04,74.73 L252.64,75.16 L253.23,75.61 L253.82,76.05 L254.4,76.5 L254.97,76.94 L255.53,77.4 L256.09,77.85 L256.64,78.31 L257.18,78.77 L257.71,79.23 L258.24,79.69 L258.75,80.16 L259.26,80.63 L259.77,81.1 L260.26,81.57 L260.75,82.05 L261.23,82.52 L261.7,83 L262.16,83.49 L262.61,83.97 L263.06,84.46 L263.49,84.95 L263.92,85.44 L264.34,85.93 L264.76,86.42 L265.16,86.92 L265.56,87.42 L265.94,87.92 L266.32,88.42 L266.69,88.93 L267.05,89.43 L267.4,89.94 L267.75,90.45 L268.08,90.96 L268.41,91.48 L268.73,91.99 L269.03,92.51 L269.33,93.02 L269.62,93.54 L269.9,94.06 L270.18,94.59 L270.44,95.11 L270.69,95.64 L270.94,96.16 L271.18,96.69 L271.4,97.22 L271.62,97.75 L271.83,98.28 L272.03,98.81 L272.22,99.35 L272.4,99.88 L272.57,100.42 L272.73,100.96 L272.88,101.49 L273.02,102.03 L273.15,102.57 L273.28,103.11 L273.39,103.66 L273.49,104.2 L273.59,104.74 L273.67,105.29 L273.75,105.83 L273.81,106.38 L273.87,106.92 L273.91,107.47 L273.95,108.02 L273.98,108.56 L273.99,109.11 L274,109.66 L274,110.21 L273.98,110.76 L273.96,111.31 L273.93,111.86 L273.88,112.4 L273.83,112.95 L273.77,113.5 L273.7,114.05 L273.61,114.6 L273.52,115.15 L273.42,115.7 L273.31,116.25 L273.18,116.8 L273.05,117.35 L272.91,117.9 L272.75,118.45 L272.59,119 L272.42,119.55 L272.24,120.09 L272.04,120.64 L271.84,121.19 L271.63,121.73 L271.4,122.28 L271.17,122.82 L270.93,123.37 L270.67,123.91 L270.41,124.45 L270.14,124.99 L269.85,125.54 L269.56,126.08 L269.25,126.61 L268.94,127.15 L268.62,127.69 L268.28,128.22 L267.94,128.76 L267.58,129.29 L267.22,129.82 L266.85,130.36 L266.46,130.88 L266.07,131.41 L265.67,131.94 L265.25,132.46 L264.83,132.99 L264.39,133.51 L263.95,134.03 L263.5,134.55 L263.04,135.07 L262.56,135.58 L262.08,136.1 L261.59,136.61 L261.09,137.12 L260.57,137.62 L260.05,138.13 L259.52,138.63 L258.98,139.14 L258.43,139.64 L257.87,140.13 L257.3,140.63 L256.72,141.12 L256.13,141.61 L255.53,142.1 L254.93,142.59 L254.31,143.07 L253.69,143.55 L253.05,144.03 L252.41,144.51 L251.75,144.98 L251.09,145.45 L250.42,145.92 L249.74,146.38 L249.05,146.84 L248.35,147.3 L247.64,147.76 L246.92,148.21 L246.2,148.67 L245.46,149.11 L244.72,149.56 L243.97,150 L243.21,150.44 L242.44,150.87 L241.66,151.3 L240.87,151.73 L240.08,152.16 L239.28,152.58 L238.47,153 Z" fill="#503862" stroke="#503862" stroke-width="0.5" stroke-linejoin="round"/>
<path d="M145,105.3 L238.47,153 L238.37,153.05 Z" fill="#077080" stroke="#077080" stroke-width="0.5" stroke-linejoin="round"/>
<path d="M145,105.3 L238.37,153.05 L237.6,153.44 L236.84,153.82 L236.06,154.2 Z" fill="#c66a2b" stroke="#c66a2b" stroke-width="0.5" stroke-linejoin="round"/>
<path d="M145,105.3 L236.06,154.2 L235.25,154.59 L234.43,154.98 L233.6,155.36 L232.76,155.74 L231.91,156.12 L231.06,156.49 L230.2,156.86 L229.34,157.23 L228.47,157.59 L227.59,157.95 L226.7,158.31 L225.81,158.66 L224.91,159.01 L224,159.36 Z" fill="#135f93" stroke="#135f93" stroke-width="0.5" stroke-linejoin="round"/>
<path d="M145,105.3 L224,159.36 L223.44,159.57 Z" fill="#be3a3e" stroke="#be3a3e" stroke-width="0.5" stroke-linejoin="round"/>
<path d="M145,105.3 L223.44,159.57 L222.73,159.83 Z" fill="#85af4e" stroke="#85af4e" stroke-width="0.5" stroke-linejoin="round"/>
<path d="M145,105.3 L222.73,159.83 L221.77,160.18 L220.81,160.52 L219.84,160.86 L218.87,161.19 L217.89,161.52 L216.9,161.85 L215.9,162.17 L214.9,162.49 L213.89,162.8 L212.88,163.11 L211.86,163.41 L210.83,163.71 L209.8,164.01 L208.76,164.3 L207.71,164.59 L206.66,164.87 L205.61,165.14 L204.55,165.41 L203.48,165.68 L202.41,165.94 L201.33,166.2 L200.25,166.45 L199.16,166.7 L198.07,166.94 L196.97,167.18 L195.87,167.42 L194.76,167.64 L193.65,167.87 L192.53,168.08 L191.41,168.3 L190.29,168.51 L189.16,168.71 L188.03,168.91 L186.89,169.1 L185.75,169.29 L184.6,169.47 L183.45,169.65 L182.3,169.82 L181.15,169.99 L179.99,170.15 L178.83,170.3 L177.66,170.46 L176.49,170.6 L175.32,170.74 L174.15,170.88 L172.97,171.01 L171.79,171.13 L170.61,171.25 L169.43,171.36 L168.24,171.47 L167.05,171.58 L165.86,171.67 L164.67,171.77 L163.47,171.85 L162.28,171.93 L161.08,172.01 L159.88,172.08 L158.68,172.15 Z" fill="#644a76" stroke="#644a76" stroke-width="0.5" stroke-linejoin="round"/>
<path d="M145,105.3 L158.68,172.15 L157.48,172.21 L156.29,172.26 L155.09,172.31 L153.89,172.35 L152.69,172.39 L151.49,172.42 L150.29,172.45 L149.08,172.47 L147.88,172.48 L146.68,172.49 L145.48,172.5 L144.27,172.5 L143.07,172.49 L141.87,172.48 L140.66,172.46 L139.46,172.44 L138.26,172.41 L137.06,172.38 L135.86,172.34 L134.66,172.3 L133.46,172.25 L132.27,172.19 L131.07,172.13 L129.88,172.07 L128.68,172 L127.49,171.92 L126.3,171.84 L125.11,171.75 L123.92,171.66 L122.74,171.56 L121.56,171.46 L120.38,171.35 L119.2,171.23 L118.02,171.11 L116.85,170.99 L115.68,170.86 L114.51,170.72 L113.35,170.58 L112.18,170.44 L111.02,170.28 L109.87,170.13 L108.71,169.97 L107.57,169.8 L106.42,169.63 L105.28,169.45 L104.14,169.27 L103,169.08 L101.87,168.89 L100.74,168.69 L99.62,168.49 L98.5,168.28 L97.39,168.07 L96.28,167.85 L95.17,167.63 L94.07,167.4 L92.97,167.17 L91.88,166.93 L90.79,166.69 L89.71,166.44 L88.63,166.19 L87.56,165.94 L86.49,165.67 L85.43,165.41 L84.38,165.14 L83.32,164.86 L82.28,164.58 L81.24,164.3 L80.21,164.01 L79.18,163.72 L78.16,163.42 L77.14,163.12 L76.13,162.81 L75.13,162.5 L74.13,162.18 L73.14,161.86 L72.15,161.54 L71.18,161.21 L70.2,160.88 L69.24,160.54 L68.28,160.2 L67.33,159.85 L66.39,159.5 L65.45,159.15 L64.52,158.79 L63.6,158.43 L62.68,158.06 L61.77,157.69 L60.87,157.32 L59.98,156.94 L59.09,156.56 L58.21,156.18 L57.34,155.79 L56.48,155.39 L55.62,155 L54.78,154.6 L53.94,154.2 L53.11,153.79 L52.28,153.38 L51.47,152.96 L50.66,152.55 L49.86,152.13 L49.07,151.7 L48.29,151.28 L47.51,150.85 L46.75,150.41 L45.99,149.97 L45.24,149.53 L44.5,149.09 L43.77,148.65 L43.05,148.2 L42.34,147.74 L41.63,147.29 L40.93,146.83 L40.25,146.37 L39.57,145.91 L38.9,145.44 L38.24,144.97 L37.59,144.5 L36.95,144.03 L36.31,143.55 L35.69,143.07 L35.08,142.59 L34.47,142.11 L33.88,141.62 L33.29,141.13 Z" fill="#0c879f" stroke="#0c879f" stroke-width="0.5" stroke-linejoin="round"/>
<path d="M145,105.3 L33.29,141.13 L33.17,141.03 Z" fill="#f88439" stroke="#f88439" stroke-width="0.5" stroke-linejoin="round"/>
<path d="M145,105.3 L33.17,141.03 L32.65,140.58 L32.13,140.13 L31.61,139.67 L31.11,139.22 L30.61,138.76 L30.12,138.3 L29.64,137.84 L29.17,137.37 L28.71,136.91 L28.25,136.44 Z" fill="#196898" stroke="#196898" stroke-width="0.5" stroke-linejoin="round"/>
<path d="M145,105.3 L28.25,136.44 L27.76,135.93 L27.28,135.42 L26.81,134.9 L26.35,134.38 L25.9,133.86 L25.46,133.34 L25.03,132.82 L24.61,132.29 L24.2,131.77 L23.8,131.24 L23.41,130.71 L23.03,130.18 L22.66,129.65 L22.3,129.12 L21.95,128.58 L21.61,128.05 L21.28,127.51 L20.96,126.98 L20.65,126.44 L20.35,125.9 L20.05,125.36 L19.77,124.82 L19.5,124.28 L19.24,123.73 L18.99,123.19 L18.75,122.64 L18.52,122.1 L18.3,121.55 L18.09,121.01 L17.89,120.46 L17.7,119.91 L17.52,119.37 L17.35,118.82 L17.19,118.27 L17.04,117.72 L16.91,117.17 L16.78,116.62 L16.66,116.07 L16.55,115.52 L16.45,114.97 L16.36,114.42 L16.28,113.87 L16.21,113.32 L16.15,112.77 L16.1,112.22 L16.06,111.67 L16.03,111.12 L16.01,110.57 L16,110.02 L16,109.48 L16.01,108.93 L16.03,108.38 L16.06,107.83 L16.1,107.29 L16.15,106.74 L16.21,106.19 L16.28,105.65 L16.35,105.1 L16.44,104.56 L16.54,104.02 L16.65,103.47 L16.76,102.93 L16.89,102.39 L17.03,101.85 L17.17,101.31 L17.33,100.78 L17.49,100.24 L17.66,99.7 L17.85,99.17 L18.04,98.63 L18.24,98.1 L18.45,97.57 L18.67,97.04 L18.9,96.51 L19.14,95.98 L19.39,95.46 L19.65,94.93 L19.91,94.41 L20.19,93.89 L20.47,93.37 L20.77,92.85 L21.07,92.33 L21.38,91.81 L21.7,91.3 L22.03,90.79 L22.37,90.28 Z" fill="#c44848" stroke="#c44848" stroke-width="0.5" stroke-linejoin="round"/>
<path d="M145,105.3 L22.37,90.28 L22.42,90.2 Z" fill="#86b050" stroke="#86b050" stroke-width="0.5" stroke-linejoin="round"/>
<path d="M145,105.3 L22.42,90.2 L22.49,90.1 Z" fill="#6f5189" stroke="#6f5189" stroke-width="0.5" stroke-linejoin="round"/>
<path d="M145,105.3 L22.49,90.1 L22.83,89.61 L23.17,89.12 L23.53,88.63 L23.89,88.14 L24.26,87.65 L24.64,87.17 L25.03,86.69 L25.42,86.21 L25.83,85.73 L26.24,85.25 L26.66,84.78 Z" fill="#0899af" stroke="#0899af" stroke-width="0.5" stroke-linejoin="round"/>
<path d="M145,105.3 L26.66,84.78 L27.09,84.29 L27.54,83.81 L27.99,83.33 L28.45,82.86 L28.92,82.38 L29.39,81.91 L29.88,81.44 L30.37,80.97 L30.87,80.51 L31.37,80.04 L31.89,79.58 L32.41,79.12 L32.94,78.67 L33.48,78.21 L34.02,77.76 L34.57,77.31 L35.13,76.87 L35.7,76.42 L36.27,75.98 L36.86,75.54 L37.44,75.1 L38.04,74.67 L38.64,74.24 L39.25,73.81 L39.87,73.39 L40.49,72.96 L41.12,72.54 L41.76,72.12 L42.41,71.71 L43.06,71.3 L43.71,70.89 L44.38,70.48 L45.05,70.08 L45.73,69.68 L46.41,69.28 L47.1,68.89 L47.8,68.5 L48.5,68.11 L49.21,67.72 L49.92,67.34 L50.65,66.96 L51.37,66.58 Z" fill="#fc8a4a" stroke="#fc8a4a" stroke-width="0.5" stroke-linejoin="round"/>
<path d="M145,105.3 L51.37,66.58 L51.94,66.29 L52.51,66.01 L53.08,65.72 L53.66,65.44 Z" fill="#7e99b8" stroke="#7e99b8" stroke-width="0.5" stroke-linejoin="round"/>
<path d="M145,105.3 L53.66,65.44 L54.38,65.09 L55.11,64.74 L55.84,64.4 L56.58,64.06 L57.32,63.72 L58.07,63.39 L58.82,63.06 L59.58,62.73 L60.34,62.4 L61.11,62.08 L61.89,61.76 L62.67,61.44 L63.45,61.13 L64.24,60.82 L65.03,60.51 L65.83,60.21 L66.63,59.91 L67.43,59.61 L68.24,59.32 L69.06,59.03 Z" fill="#db8583" stroke="#db8583" stroke-width="0.5" stroke-linejoin="round"/>
<path d="M145,105.3 L69.06,59.03 L69.92,58.72 L70.79,58.42 L71.66,58.13 L72.53,57.84 Z" fill="#a8c48c" stroke="#a8c48c" stroke-width="0.5" stroke-linejoin="round"/>
<path d="M145,105.3 L72.53,57.84 L72.71,57.78 Z" fill="#9a85ae" stroke="#9a85ae" stroke-width="0.5" stroke-linejoin="round"/>
<path d="M145,105.3 L72.71,57.78 L73.56,57.5 L74.42,57.23 L75.28,56.95 L76.14,56.69 L77.01,56.42 L77.89,56.16 L78.76,55.9 L79.64,55.65 L80.53,55.4 L81.42,55.15 L82.31,54.91 L83.21,54.67 L84.1,54.43 L85.01,54.2 L85.91,53.97 L86.82,53.74 L87.74,53.52 Z" fill="#71b1c2" stroke="#71b1c2" stroke-width="0.5" stroke-linejoin="round"/>
<path d="M145,105.3 L87.74,53.52 L87.88,53.49 Z" fill="#f6a57e" stroke="#f6a57e" stroke-width="0.5" stroke-linejoin="round"/>
<path d="M145,105.3 L87.88,53.49 L88.74,53.28 L89.6,53.08 L90.47,52.88 L91.34,52.69 Z" fill="#abbcd0" stroke="#abbcd0" stroke-width="0.5" stroke-linejoin="round"/>
<path d="M145,105.3 L91.34,52.69 L92,52.54 Z" fill="#e6b3b1" stroke="#e6b3b1" stroke-width="0.5" stroke-linejoin="round"/>
<path d="M145,105.3 L92,52.54 L92.94,52.34 L93.88,52.14 L94.83,51.94 L95.77,51.75 L96.72,51.56 L97.67,51.38 L98.63,51.19 L99.59,51.02 L100.55,50.84 L101.51,50.67 L102.48,50.51 L103.44,50.35 L104.41,50.19 L105.39,50.03 L106.36,49.88 L107.34,49.73 Z" fill="#c5d3b6" stroke="#c5d3b6" stroke-width="0.5" stroke-linejoin="round"/>
<path d="M145,105.3 L107.34,49.73 L108.33,49.59 L109.32,49.45 L110.32,49.31 L111.32,49.18 L112.32,49.05 L113.32,48.92 L114.32,48.8 L115.33,48.68 L116.33,48.57 L117.34,48.46 L118.35,48.35 L119.37,48.25 L120.38,48.15 L121.39,48.06 L122.41,47.97 L123.43,47.88 L124.45,47.8 L125.47,47.72 L126.49,47.65 L127.51,47.58 L128.53,47.51 L129.56,47.45 L130.58,47.39 L131.61,47.34 L132.64,47.29 L133.66,47.24 L134.69,47.2 L135.72,47.16 L136.75,47.13 L137.78,47.1 L138.81,47.07 L139.84,47.05 L140.87,47.03 L141.91,47.02 L142.94,47.01 L143.97,47 L145,47 Z" fill="#c8b7c9" stroke="#c8b7c9" stroke-width="0.5" stroke-linejoin="round"/>
</g>
<g>
<path d="M279.47,345.14 L279.44,345.65 L279.41,346.17 L279.36,346.69 L279.31,347.2 L279.25,347.72 L278.1,375.28 L278.16,374.76 L278.21,374.23 L278.26,373.7 L278.3,373.18 L278.32,372.65 Z" fill="#c66a2b"/>
<path d="M279.3,347.27 L279.24,347.82 L279.16,348.36 L279.07,348.9 L278.98,349.45 L278.87,349.99 L278.76,350.53 L278.63,351.08 L278.5,351.62 L278.35,352.16 L278.2,352.71 L277.05,380.37 L277.21,379.81 L277.35,379.26 L277.49,378.71 L277.61,378.15 L277.72,377.6 L277.83,377.05 L277.92,376.49 L278.01,375.94 L278.09,375.38 L278.15,374.83 Z" fill="#135f93"/>
<path d="M278.33,352.26 L278.17,352.8 L278.01,353.35 L277.83,353.89 L277.65,354.43 L277.45,354.97 L277.25,355.51 L277.03,356.05 L276.81,356.59 L276.57,357.12 L276.33,357.66 L275.19,385.42 L275.43,384.87 L275.67,384.32 L275.89,383.78 L276.1,383.23 L276.31,382.67 L276.5,382.12 L276.69,381.57 L276.86,381.02 L277.03,380.47 L277.18,379.91 Z" fill="#be3a3e"/>
<path d="M276.53,357.22 L276.29,357.74 L276.04,358.26 L275.79,358.78 L275.52,359.3 L274.39,387.09 L274.65,386.56 L274.91,386.03 L275.15,385.5 L275.39,384.97 Z" fill="#85af4e"/>
<path d="M275.75,358.86 L275.47,359.41 L275.18,359.95 L274.88,360.49 L274.57,361.03 L274.25,361.57 L273.92,362.1 L273.58,362.64 L273.23,363.18 L272.87,363.71 L272.5,364.24 L272.12,364.77 L271.73,365.3 L271.33,365.83 L270.92,366.36 L270.5,366.88 L270.07,367.41 L269.63,367.93 L269.19,368.45 L268.73,368.97 L268.26,369.49 L267.78,370.01 L267.29,370.52 L266.79,371.03 L266.29,371.54 L265.77,372.05 L265.24,372.56 L264.71,373.06 L264.16,373.56 L263.6,374.06 L263.04,374.56 L262.46,375.06 L261.43,403.15 L262,402.65 L262.56,402.14 L263.11,401.63 L263.66,401.12 L264.19,400.6 L264.71,400.09 L265.22,399.57 L265.73,399.05 L266.22,398.53 L266.71,398 L267.18,397.48 L267.64,396.95 L268.1,396.42 L268.55,395.89 L268.98,395.36 L269.41,394.82 L269.82,394.29 L270.23,393.75 L270.63,393.21 L271.01,392.67 L271.39,392.13 L271.76,391.59 L272.11,391.04 L272.46,390.5 L272.8,389.95 L273.13,389.4 L273.44,388.85 L273.75,388.3 L274.05,387.75 L274.34,387.2 L274.61,386.65 Z" fill="#644a76"/>
<path d="M262.93,374.66 L262.35,375.15 L261.76,375.65 L261.16,376.14 L260.56,376.63 L259.94,377.12 L259.31,377.61 L258.68,378.09 L258.03,378.57 L257.38,379.05 L256.71,379.53 L256.04,380 L255.36,380.47 L254.67,380.94 L253.97,381.4 L253.26,381.86 L252.54,382.32 L251.82,382.78 L251.08,383.23 L250.33,383.68 L249.58,384.13 L248.82,384.57 L248.05,385.01 L247.27,385.45 L246.48,385.88 L245.68,386.31 L244.88,386.74 L244.07,387.16 L243.24,387.58 L242.41,388 L241.58,388.41 L240.73,388.82 L239.88,389.23 L239.01,389.63 L238.14,390.03 L237.26,390.43 L236.38,390.82 L235.48,391.21 L234.58,391.59 L233.67,391.97 L232.76,392.35 L231.83,392.72 L230.9,393.09 L229.96,393.46 L229.02,393.82 L228.07,394.17 L227.11,394.53 L226.14,394.87 L225.16,395.22 L224.18,395.56 L223.2,395.89 L222.2,396.23 L221.2,396.55 L220.19,396.88 L219.18,397.19 L218.16,397.51 L217.13,397.82 L216.1,398.12 L215.06,398.42 L214.02,398.72 L212.96,399.01 L211.91,399.3 L210.85,399.58 L209.78,399.86 L208.7,400.13 L207.62,400.4 L206.54,400.66 L205.45,400.92 L204.36,401.17 L203.26,401.42 L202.15,401.67 L201.04,401.91 L199.93,402.14 L198.81,402.37 L197.68,402.59 L196.55,402.81 L195.42,403.03 L194.28,403.24 L193.14,403.44 L192,403.64 L190.85,403.83 L189.69,404.02 L188.54,404.21 L187.38,404.39 L186.21,404.56 L185.04,404.73 L183.87,404.89 L182.7,405.05 L181.52,405.2 L180.34,405.35 L179.16,405.49 L177.97,405.63 L177.69,434.3 L178.87,434.16 L180.04,434.01 L181.21,433.86 L182.38,433.71 L183.54,433.55 L184.7,433.38 L185.86,433.21 L187.01,433.03 L188.16,432.85 L189.31,432.66 L190.45,432.47 L191.59,432.27 L192.72,432.07 L193.85,431.86 L194.98,431.65 L196.1,431.43 L197.22,431.21 L198.34,430.98 L199.44,430.74 L200.55,430.51 L201.65,430.26 L202.74,430.01 L203.83,429.76 L204.92,429.5 L206,429.24 L207.07,428.97 L208.14,428.7 L209.21,428.42 L210.26,428.14 L211.32,427.85 L212.36,427.56 L213.4,427.26 L214.44,426.96 L215.47,426.65 L216.49,426.34 L217.51,426.03 L218.52,425.71 L219.53,425.38 L220.52,425.05 L221.52,424.72 L222.5,424.38 L223.48,424.04 L224.45,423.69 L225.42,423.34 L226.38,422.99 L227.33,422.63 L228.27,422.27 L229.21,421.9 L230.14,421.53 L231.06,421.15 L231.98,420.77 L232.89,420.39 L233.79,420 L234.68,419.61 L235.57,419.21 L236.45,418.81 L237.32,418.41 L238.18,418 L239.03,417.59 L239.88,417.18 L240.72,416.76 L241.55,416.34 L242.37,415.91 L243.19,415.49 L243.99,415.05 L244.79,414.62 L245.58,414.18 L246.36,413.74 L247.14,413.29 L247.9,412.84 L248.66,412.39 L249.4,411.94 L250.14,411.48 L250.87,411.02 L251.59,410.55 L252.3,410.08 L253.01,409.61 L253.7,409.14 L254.39,408.67 L255.06,408.19 L255.73,407.7 L256.39,407.22 L257.04,406.73 L257.68,406.24 L258.31,405.75 L258.93,405.26 L259.54,404.76 L260.14,404.26 L260.74,403.76 L261.32,403.25 L261.89,402.74 Z" fill="#0c879f"/>
<path d="M178.92,405.52 L177.79,405.65 L176.66,405.77 L175.52,405.89 L174.38,406.01 L174.14,434.68 L175.27,434.57 L176.39,434.45 L177.52,434.32 L178.64,434.19 Z" fill="#f88439"/>
<path d="M175.35,405.91 L174.15,406.03 L172.96,406.15 L171.76,406.25 L170.57,406.36 L169.36,406.46 L168.16,406.55 L166.96,406.64 L165.75,406.72 L164.54,406.8 L163.33,406.87 L162.12,406.93 L160.91,406.99 L159.7,407.05 L158.48,407.1 L157.27,407.14 L156.05,407.18 L154.84,407.21 L153.62,407.24 L152.4,407.26 L151.18,407.28 L149.96,407.29 L148.74,407.3 L147.53,407.3 L146.31,407.29 L145.09,407.28 L143.87,407.27 L142.65,407.25 L141.43,407.22 L140.22,407.19 L139,407.15 L137.79,407.11 L136.57,407.06 L135.36,407.01 L134.15,406.95 L132.93,406.88 L131.72,406.81 L130.52,406.74 L129.31,406.66 L128.11,406.57 L126.9,406.48 L127.1,435.16 L128.29,435.26 L129.48,435.34 L130.68,435.43 L131.88,435.5 L133.07,435.57 L134.27,435.64 L135.48,435.7 L136.68,435.76 L137.88,435.8 L139.09,435.85 L140.29,435.89 L141.5,435.92 L142.7,435.95 L143.91,435.97 L145.12,435.98 L146.32,435.99 L147.53,436 L148.74,436 L149.95,435.99 L151.15,435.98 L152.36,435.96 L153.57,435.94 L154.77,435.91 L155.98,435.88 L157.18,435.84 L158.39,435.79 L159.59,435.74 L160.79,435.69 L161.99,435.63 L163.19,435.56 L164.39,435.49 L165.59,435.41 L166.78,435.32 L167.97,435.24 L169.17,435.14 L170.36,435.04 L171.54,434.94 L172.73,434.82 L173.91,434.71 L175.09,434.59 Z" fill="#196898"/>
<path d="M127.87,406.55 L126.67,406.46 L125.46,406.36 L124.26,406.26 L123.06,406.15 L121.86,406.03 L120.67,405.91 L119.48,405.79 L118.29,405.66 L117.1,405.52 L115.92,405.38 L114.73,405.23 L113.56,405.08 L112.38,404.93 L111.21,404.76 L110.04,404.6 L108.87,404.42 L107.71,404.25 L106.55,404.06 L105.4,403.88 L104.25,403.68 L103.1,403.48 L101.96,403.28 L100.82,403.07 L99.69,402.86 L98.56,402.64 L97.44,402.42 L96.32,402.19 L95.2,401.96 L94.09,401.72 L92.98,401.48 L91.88,401.23 L90.79,400.97 L89.7,400.72 L88.61,400.45 L87.53,400.19 L86.46,399.92 L85.39,399.64 L84.32,399.36 L83.26,399.07 L82.21,398.78 L81.17,398.49 L80.13,398.19 L79.09,397.88 L78.06,397.58 L77.04,397.26 L76.03,396.94 L75.02,396.62 L74.02,396.3 L73.02,395.97 L72.03,395.63 L71.05,395.29 L70.07,394.95 L69.11,394.6 L68.14,394.25 L67.19,393.89 L66.24,393.54 L65.3,393.17 L64.37,392.8 L63.44,392.43 L62.53,392.06 L61.61,391.68 L60.71,391.29 L59.82,390.91 L58.93,390.51 L58.05,390.12 L57.18,389.72 L56.31,389.32 L55.46,388.91 L54.61,388.5 L53.77,388.09 L52.94,387.67 L52.11,387.26 L51.3,386.83 L50.49,386.41 L49.69,385.98 L48.9,385.54 L48.12,385.11 L47.35,384.67 L46.59,384.22 L45.83,383.78 L45.08,383.33 L44.35,382.88 L43.62,382.42 L42.9,381.96 L42.19,381.5 L41.48,381.04 L40.79,380.57 L40.11,380.1 L41.09,408.29 L41.76,408.77 L42.45,409.25 L43.15,409.72 L43.85,410.19 L44.57,410.65 L45.29,411.12 L46.02,411.58 L46.76,412.04 L47.51,412.49 L48.27,412.94 L49.03,413.39 L49.81,413.84 L50.59,414.28 L51.38,414.71 L52.18,415.15 L52.99,415.58 L53.81,416.01 L54.63,416.43 L55.46,416.85 L56.3,417.27 L57.15,417.68 L58.01,418.09 L58.87,418.5 L59.75,418.9 L60.62,419.3 L61.51,419.69 L62.41,420.09 L63.31,420.47 L64.22,420.85 L65.14,421.23 L66.06,421.61 L66.99,421.98 L67.93,422.35 L68.88,422.71 L69.83,423.07 L70.79,423.42 L71.76,423.77 L72.73,424.11 L73.71,424.46 L74.7,424.79 L75.69,425.12 L76.69,425.45 L77.7,425.78 L78.71,426.09 L79.73,426.41 L80.75,426.72 L81.78,427.02 L82.82,427.32 L83.86,427.62 L84.91,427.91 L85.97,428.2 L87.02,428.48 L88.09,428.76 L89.16,429.03 L90.24,429.3 L91.32,429.56 L92.4,429.81 L93.49,430.07 L94.59,430.31 L95.69,430.56 L96.79,430.79 L97.9,431.03 L99.02,431.25 L100.14,431.48 L101.26,431.69 L102.39,431.91 L103.52,432.11 L104.66,432.32 L105.8,432.51 L106.94,432.7 L108.09,432.89 L109.24,433.07 L110.39,433.25 L111.55,433.42 L112.71,433.58 L113.88,433.74 L115.04,433.9 L116.21,434.05 L117.39,434.19 L118.56,434.33 L119.74,434.46 L120.92,434.59 L122.11,434.71 L123.29,434.83 L124.48,434.94 L125.67,435.04 L126.87,435.14 L128.06,435.24 Z" fill="#c44848"/>
<path d="M40.66,380.48 L40.01,380.03 L39.37,379.58 L38.73,379.13 L38.11,378.67 L39.1,406.84 L39.72,407.3 L40.35,407.76 L40.99,408.22 L41.63,408.68 Z" fill="#86b050"/>
<path d="M38.63,379.06 L38.01,378.6 L37.39,378.15 L36.79,377.69 L36.19,377.22 L37.2,405.36 L37.79,405.83 L38.4,406.3 L39.01,406.77 L39.62,407.23 Z" fill="#6f5189"/>
<path d="M36.69,377.61 L36.07,377.13 L35.45,376.64 L34.85,376.15 L34.25,375.66 L33.66,375.17 L33.08,374.67 L32.52,374.17 L31.96,373.67 L31.41,373.17 L30.87,372.66 L30.34,372.16 L29.82,371.65 L29.31,371.14 L28.81,370.62 L28.32,370.11 L27.84,369.59 L27.36,369.07 L26.9,368.55 L26.45,368.03 L26.01,367.51 L25.58,366.98 L25.15,366.46 L24.74,365.93 L24.34,365.4 L23.95,364.87 L23.57,364.34 L23.19,363.8 L22.83,363.27 L22.48,362.73 L22.14,362.19 L21.81,361.66 L21.48,361.12 L21.17,360.58 L20.87,360.03 L20.58,359.49 L20.3,358.95 L20.03,358.4 L19.76,357.86 L19.51,357.31 L19.27,356.77 L19.04,356.22 L18.82,355.67 L18.61,355.12 L18.41,354.57 L18.22,354.03 L18.04,353.48 L19.18,381.15 L19.36,381.71 L19.55,382.27 L19.75,382.83 L19.96,383.39 L20.18,383.95 L20.41,384.51 L20.65,385.07 L20.9,385.62 L21.16,386.18 L21.43,386.73 L21.71,387.29 L22,387.84 L22.3,388.39 L22.61,388.94 L22.93,389.49 L23.26,390.04 L23.6,390.59 L23.95,391.13 L24.31,391.68 L24.68,392.22 L25.06,392.77 L25.44,393.31 L25.84,393.85 L26.25,394.39 L26.67,394.92 L27.1,395.46 L27.54,395.99 L27.99,396.52 L28.44,397.05 L28.91,397.58 L29.39,398.11 L29.88,398.63 L30.37,399.15 L30.88,399.68 L31.4,400.19 L31.92,400.71 L32.46,401.23 L33,401.74 L33.56,402.25 L34.12,402.76 L34.69,403.26 L35.28,403.77 L35.87,404.27 L36.47,404.77 L37.08,405.26 L37.7,405.76 Z" fill="#0899af"/>
<path d="M18.18,353.92 L18,353.37 L17.83,352.82 L17.68,352.28 L17.53,351.73 L17.39,351.18 L17.26,350.63 L17.14,350.08 L17.04,349.53 L16.94,348.98 L16.85,348.43 L16.77,347.88 L16.7,347.33 L16.65,346.79 L16.6,346.24 L16.56,345.69 L16.53,345.14 L17.68,372.65 L17.71,373.21 L17.75,373.77 L17.79,374.33 L17.85,374.89 L17.92,375.45 L18,376.01 L18.09,376.57 L18.19,377.13 L18.29,377.69 L18.41,378.25 L18.54,378.81 L18.68,379.37 L18.82,379.93 L18.98,380.49 L19.15,381.05 L19.33,381.61 Z" fill="#fc8a4a"/>
<path d="M279.47,345.14 L279.44,345.69 L279.4,346.25 L279.35,346.8 L279.29,347.36 L279.22,347.92 L279.14,348.47 L279.05,349.03 L278.95,349.58 L278.84,350.14 L278.72,350.69 L278.59,351.25 L278.45,351.8 L278.3,352.36 L278.14,352.91 L277.97,353.47 L277.79,354.02 L277.59,354.57 L277.39,355.12 L277.18,355.68 L276.96,356.23 L276.72,356.78 L276.48,357.33 L276.23,357.88 L275.96,358.43 L275.69,358.97 L275.41,359.52 L275.11,360.07 L274.81,360.61 L274.49,361.15 L274.17,361.7 L273.83,362.24 L273.49,362.78 L273.13,363.32 L272.77,363.86 L272.39,364.39 L272.01,364.93 L271.61,365.46 L271.21,366 L270.79,366.53 L270.36,367.06 L269.93,367.58 L269.48,368.11 L269.02,368.64 L268.56,369.16 L268.08,369.68 L267.6,370.2 L267.1,370.72 L266.59,371.23 L266.08,371.75 L265.55,372.26 L265.02,372.77 L264.47,373.28 L263.92,373.78 L263.35,374.29 L262.78,374.79 L262.2,375.29 L261.6,375.78 L261,376.28 L260.39,376.77 L259.76,377.26 L259.13,377.75 L258.49,378.23 L257.84,378.71 L257.18,379.19 L256.51,379.67 L255.83,380.14 L255.15,380.61 L254.45,381.08 L253.74,381.55 L253.03,382.01 L252.3,382.47 L251.57,382.93 L250.83,383.38 L250.08,383.83 L249.32,384.28 L248.55,384.72 L247.77,385.16 L246.99,385.6 L246.19,386.04 L245.39,386.47 L244.58,386.9 L243.76,387.32 L242.93,387.74 L242.09,388.16 L241.25,388.57 L240.39,388.98 L239.53,389.39 L238.66,389.79 L237.79,390.19 L236.9,390.59 L236.01,390.98 L235.11,391.37 L234.2,391.75 L233.28,392.13 L232.36,392.51 L231.43,392.88 L230.49,393.25 L229.54,393.62 L228.59,393.98 L227.63,394.33 L226.66,394.69 L225.69,395.03 L224.71,395.38 L223.72,395.72 L222.72,396.05 L221.72,396.38 L220.71,396.71 L219.7,397.03 L218.68,397.35 L217.65,397.66 L216.62,397.97 L215.58,398.27 L214.53,398.57 L213.48,398.87 L212.42,399.16 L211.36,399.44 L210.29,399.73 L209.21,400 L208.13,400.27 L207.04,400.54 L205.95,400.8 L204.85,401.06 L203.75,401.31 L202.64,401.56 L201.53,401.8 L200.41,402.04 L199.29,402.27 L198.16,402.5 L197.03,402.72 L195.9,402.94 L194.76,403.15 L193.61,403.36 L192.46,403.56 L191.31,403.76 L190.15,403.95 L188.99,404.14 L187.83,404.32 L186.66,404.49 L185.49,404.66 L184.31,404.83 L183.14,404.99 L181.95,405.15 L180.77,405.3 L179.58,405.44 L178.39,405.58 L177.2,405.71 L176,405.84 L174.8,405.97 L173.6,406.08 L172.4,406.2 L171.19,406.3 L169.98,406.41 L168.77,406.5 L167.56,406.59 L166.35,406.68 L165.13,406.76 L163.92,406.83 L162.7,406.9 L161.48,406.97 L160.26,407.02 L159.03,407.08 L157.81,407.12 L156.59,407.16 L155.36,407.2 L154.13,407.23 L152.91,407.26 L151.68,407.28 L150.45,407.29 L149.23,407.3 L148,407.3 L146.77,407.3 L145.55,407.29 L144.32,407.28 L143.09,407.26 L141.87,407.23 L140.64,407.2 L139.41,407.16 L138.19,407.12 L136.97,407.08 L135.74,407.02 L134.52,406.97 L133.3,406.9 L132.08,406.83 L130.87,406.76 L129.65,406.68 L128.44,406.59 L127.23,406.5 L126.02,406.41 L124.81,406.3 L123.6,406.2 L122.4,406.08 L121.2,405.97 L120,405.84 L118.8,405.71 L117.61,405.58 L116.42,405.44 L115.23,405.3 L114.05,405.15 L112.86,404.99 L111.69,404.83 L110.51,404.66 L109.34,404.49 L108.17,404.32 L107.01,404.14 L105.85,403.95 L104.69,403.76 L103.54,403.56 L102.39,403.36 L101.24,403.15 L100.1,402.94 L98.97,402.72 L97.84,402.5 L96.71,402.27 L95.59,402.04 L94.47,401.8 L93.36,401.56 L92.25,401.31 L91.15,401.06 L90.05,400.8 L88.96,400.54 L87.87,400.27 L86.79,400 L85.71,399.73 L84.64,399.44 L83.58,399.16 L82.52,398.87 L81.47,398.57 L80.42,398.27 L79.38,397.97 L78.35,397.66 L77.32,397.35 L76.3,397.03 L75.29,396.71 L74.28,396.38 L73.28,396.05 L72.28,395.72 L71.29,395.38 L70.31,395.03 L69.34,394.69 L68.37,394.33 L67.41,393.98 L66.46,393.62 L65.51,393.25 L64.57,392.88 L63.64,392.51 L62.72,392.13 L61.8,391.75 L60.89,391.37 L59.99,390.98 L59.1,390.59 L58.21,390.19 L57.34,389.79 L56.47,389.39 L55.61,388.98 L54.75,388.57 L53.91,388.16 L53.07,387.74 L52.24,387.32 L51.42,386.9 L50.61,386.47 L49.81,386.04 L49.01,385.6 L48.23,385.16 L47.45,384.72 L46.68,384.28 L45.92,383.83 L45.17,383.38 L44.43,382.93 L43.7,382.47 L42.97,382.01 L42.26,381.55 L41.55,381.08 L40.85,380.61 L40.17,380.14 L39.49,379.67 L38.82,379.19 L38.16,378.71 L37.51,378.23 L36.87,377.75 L36.24,377.26 L35.61,376.77 L35,376.28 L34.4,375.78 L33.8,375.29 L33.22,374.79 L32.65,374.29 L32.08,373.78 L31.53,373.28 L30.98,372.77 L30.45,372.26 L29.92,371.75 L29.41,371.23 L28.9,370.72 L28.4,370.2 L27.92,369.68 L27.44,369.16 L26.98,368.64 L26.52,368.11 L26.07,367.58 L25.64,367.06 L25.21,366.53 L24.79,366 L24.39,365.46 L23.99,364.93 L23.61,364.39 L23.23,363.86 L22.87,363.32 L22.51,362.78 L22.17,362.24 L21.83,361.7 L21.51,361.15 L21.19,360.61 L20.89,360.07 L20.59,359.52 L20.31,358.97 L20.04,358.43 L19.77,357.88 L19.52,357.33 L19.28,356.78 L19.04,356.23 L18.82,355.68 L18.61,355.12 L18.41,354.57 L18.21,354.02 L18.03,353.47 L17.86,352.91 L17.7,352.36 L17.55,351.8 L17.41,351.25 L17.28,350.69 L17.16,350.14 L17.05,349.58 L16.95,349.03 L16.86,348.47 L16.78,347.92 L16.71,347.36 L16.65,346.8 L16.6,346.25 L16.56,345.69 L16.53,345.14 L17.68,372.65 L17.71,373.22 L17.75,373.78 L17.8,374.35 L17.86,374.92 L17.93,375.48 L18.01,376.05 L18.1,376.62 L18.2,377.18 L18.31,377.75 L18.43,378.32 L18.56,378.88 L18.7,379.45 L18.85,380.01 L19.01,380.58 L19.18,381.14 L19.36,381.71 L19.55,382.27 L19.75,382.83 L19.96,383.4 L20.18,383.96 L20.41,384.52 L20.66,385.08 L20.91,385.64 L21.17,386.2 L21.44,386.76 L21.72,387.31 L22.02,387.87 L22.32,388.43 L22.63,388.98 L22.95,389.53 L23.29,390.09 L23.63,390.64 L23.98,391.19 L24.34,391.74 L24.72,392.28 L25.1,392.83 L25.49,393.37 L25.9,393.92 L26.31,394.46 L26.73,395 L27.16,395.54 L27.61,396.07 L28.06,396.61 L28.52,397.14 L28.99,397.67 L29.48,398.2 L29.97,398.73 L30.47,399.25 L30.98,399.78 L31.5,400.3 L32.03,400.82 L32.58,401.34 L33.13,401.85 L33.69,402.37 L34.26,402.88 L34.83,403.39 L35.42,403.89 L36.02,404.4 L36.63,404.9 L37.25,405.4 L37.87,405.89 L38.51,406.39 L39.15,406.88 L39.81,407.37 L40.47,407.85 L41.14,408.33 L41.83,408.81 L42.52,409.29 L43.22,409.77 L43.93,410.24 L44.64,410.71 L45.37,411.17 L46.11,411.63 L46.85,412.09 L47.6,412.55 L48.37,413 L49.14,413.45 L49.92,413.9 L50.7,414.34 L51.5,414.78 L52.3,415.22 L53.12,415.65 L53.94,416.08 L54.77,416.5 L55.61,416.92 L56.45,417.34 L57.3,417.76 L58.17,418.17 L59.04,418.57 L59.91,418.98 L60.8,419.38 L61.69,419.77 L62.59,420.16 L63.5,420.55 L64.41,420.94 L65.34,421.32 L66.27,421.69 L67.2,422.06 L68.15,422.43 L69.1,422.79 L70.06,423.15 L71.03,423.51 L72,423.86 L72.98,424.2 L73.96,424.54 L74.96,424.88 L75.96,425.21 L76.96,425.54 L77.97,425.86 L78.99,426.18 L80.02,426.5 L81.05,426.81 L82.08,427.11 L83.13,427.41 L84.18,427.71 L85.23,428 L86.29,428.28 L87.36,428.57 L88.43,428.84 L89.5,429.11 L90.59,429.38 L91.67,429.64 L92.77,429.9 L93.86,430.15 L94.97,430.4 L96.07,430.64 L97.18,430.88 L98.3,431.11 L99.42,431.34 L100.55,431.56 L101.68,431.77 L102.81,431.98 L103.95,432.19 L105.09,432.39 L106.24,432.59 L107.39,432.78 L108.54,432.96 L109.7,433.14 L110.86,433.32 L112.02,433.48 L113.19,433.65 L114.36,433.81 L115.53,433.96 L116.71,434.11 L117.89,434.25 L119.07,434.39 L120.26,434.52 L121.45,434.64 L122.64,434.76 L123.83,434.88 L125.02,434.99 L126.22,435.09 L127.42,435.19 L128.62,435.28 L129.82,435.37 L131.03,435.45 L132.23,435.52 L133.44,435.59 L134.65,435.66 L135.86,435.72 L137.07,435.77 L138.28,435.82 L139.49,435.86 L140.71,435.9 L141.92,435.93 L143.14,435.95 L144.35,435.97 L145.57,435.99 L146.78,436 L148,436 L149.22,436 L150.43,435.99 L151.65,435.97 L152.86,435.95 L154.08,435.93 L155.29,435.9 L156.51,435.86 L157.72,435.82 L158.93,435.77 L160.14,435.72 L161.35,435.66 L162.56,435.59 L163.77,435.52 L164.97,435.45 L166.18,435.37 L167.38,435.28 L168.58,435.19 L169.78,435.09 L170.98,434.99 L172.17,434.88 L173.36,434.76 L174.55,434.64 L175.74,434.52 L176.93,434.39 L178.11,434.25 L179.29,434.11 L180.47,433.96 L181.64,433.81 L182.81,433.65 L183.98,433.48 L185.14,433.32 L186.3,433.14 L187.46,432.96 L188.61,432.78 L189.76,432.59 L190.91,432.39 L192.05,432.19 L193.19,431.98 L194.32,431.77 L195.45,431.56 L196.58,431.34 L197.7,431.11 L198.82,430.88 L199.93,430.64 L201.03,430.4 L202.14,430.15 L203.23,429.9 L204.33,429.64 L205.41,429.38 L206.5,429.11 L207.57,428.84 L208.64,428.57 L209.71,428.28 L210.77,428 L211.82,427.71 L212.87,427.41 L213.92,427.11 L214.95,426.81 L215.98,426.5 L217.01,426.18 L218.03,425.86 L219.04,425.54 L220.04,425.21 L221.04,424.88 L222.04,424.54 L223.02,424.2 L224,423.86 L224.97,423.51 L225.94,423.15 L226.9,422.79 L227.85,422.43 L228.8,422.06 L229.73,421.69 L230.66,421.32 L231.59,420.94 L232.5,420.55 L233.41,420.16 L234.31,419.77 L235.2,419.38 L236.09,418.98 L236.96,418.57 L237.83,418.17 L238.7,417.76 L239.55,417.34 L240.39,416.92 L241.23,416.5 L242.06,416.08 L242.88,415.65 L243.7,415.22 L244.5,414.78 L245.3,414.34 L246.08,413.9 L246.86,413.45 L247.63,413 L248.4,412.55 L249.15,412.09 L249.89,411.63 L250.63,411.17 L251.36,410.71 L252.07,410.24 L252.78,409.77 L253.48,409.29 L254.17,408.81 L254.86,408.33 L255.53,407.85 L256.19,407.37 L256.85,406.88 L257.49,406.39 L258.13,405.89 L258.75,405.4 L259.37,404.9 L259.98,404.4 L260.58,403.89 L261.17,403.39 L261.74,402.88 L262.31,402.37 L262.87,401.85 L263.42,401.34 L263.97,400.82 L264.5,400.3 L265.02,399.78 L265.53,399.25 L266.03,398.73 L266.52,398.2 L267.01,397.67 L267.48,397.14 L267.94,396.61 L268.39,396.07 L268.84,395.54 L269.27,395 L269.69,394.46 L270.1,393.92 L270.51,393.37 L270.9,392.83 L271.28,392.28 L271.66,391.74 L272.02,391.19 L272.37,390.64 L272.71,390.09 L273.05,389.53 L273.37,388.98 L273.68,388.43 L273.98,387.87 L274.28,387.31 L274.56,386.76 L274.83,386.2 L275.09,385.64 L275.34,385.08 L275.59,384.52 L275.82,383.96 L276.04,383.4 L276.25,382.83 L276.45,382.27 L276.64,381.71 L276.82,381.14 L276.99,380.58 L277.15,380.01 L277.3,379.45 L277.44,378.88 L277.57,378.32 L277.69,377.75 L277.8,377.18 L277.9,376.62 L277.99,376.05 L278.07,375.48 L278.14,374.92 L278.2,374.35 L278.25,373.78 L278.29,373.22 L278.32,372.65 Z" fill="url(#shB)"/>
<path d="M148,340.6 L148,281.5 L149.07,281.5 L150.13,281.51 L151.2,281.52 L152.26,281.53 L153.33,281.55 L154.39,281.58 L155.46,281.6 L156.52,281.63 L157.59,281.67 L158.65,281.71 L159.71,281.75 L160.78,281.8 L161.84,281.85 L162.9,281.91 L163.96,281.97 L165.01,282.03 L166.07,282.1 L167.13,282.18 Z" fill="#124f77" stroke="#124f77" stroke-width="0.5" stroke-linejoin="round"/>
<path d="M148,340.6 L167.13,282.18 L168.18,282.25 L169.24,282.33 L170.29,282.42 L171.34,282.51 L172.39,282.6 L173.44,282.7 L174.49,282.8 L175.53,282.91 L176.57,283.02 L177.62,283.13 L178.66,283.25 L179.69,283.37 L180.73,283.5 L181.76,283.63 L182.8,283.76 L183.83,283.9 L184.85,284.04 L185.88,284.19 L186.9,284.34 L187.92,284.5 L188.94,284.66 L189.96,284.82 L190.97,284.99 L191.98,285.16 L192.99,285.33 L193.99,285.51 L194.99,285.69 L195.99,285.88 L196.99,286.07 L197.98,286.27 L198.97,286.46 L199.96,286.67 L200.94,286.87 L201.92,287.08 L202.9,287.3 L203.87,287.52 L204.84,287.74 L205.81,287.97 L206.77,288.2 L207.73,288.43 L208.69,288.67 L209.64,288.91 L210.59,289.15 L211.53,289.4 L212.47,289.66 L213.41,289.91 L214.34,290.17 L215.27,290.44 L216.19,290.71 L217.11,290.98 L218.03,291.25 L218.94,291.53 L219.84,291.81 L220.75,292.1 L221.64,292.39 L222.53,292.69 L223.42,292.98 L224.3,293.28 L225.18,293.59 L226.06,293.9 L226.92,294.21 L227.79,294.52 L228.64,294.84 Z" fill="#912d31" stroke="#912d31" stroke-width="0.5" stroke-linejoin="round"/>
<path d="M148,340.6 L228.64,294.84 L229.5,295.17 L230.34,295.49 L231.19,295.82 L232.02,296.15 L232.86,296.49 L233.68,296.83 L234.5,297.17 L235.32,297.52 L236.13,297.87 L236.93,298.22 L237.73,298.58 L238.52,298.94 L239.31,299.3 L240.09,299.67 L240.86,300.04 L241.63,300.41 L242.39,300.79 L243.15,301.17 L243.9,301.55 L244.64,301.94 L245.38,302.33 L246.11,302.72 L246.83,303.11 L247.55,303.51 L248.26,303.91 L248.97,304.32 L249.66,304.72 L250.36,305.13 L251.04,305.55 L251.72,305.96 L252.39,306.38 L253.05,306.81 L253.71,307.23 L254.36,307.66 L255,308.09 L255.64,308.52 L256.27,308.96 L256.89,309.4 L257.5,309.84 L258.11,310.28 L258.71,310.73 L259.3,311.18 L259.88,311.63 L260.46,312.09 L261.03,312.54 Z" fill="#6b803b" stroke="#6b803b" stroke-width="0.5" stroke-linejoin="round"/>
<path d="M148,340.6 L261.03,312.54 L261.59,313 L262.14,313.47 L262.68,313.93 L263.22,314.4 L263.75,314.87 L264.27,315.34 L264.79,315.81 L265.29,316.29 L265.79,316.77 L266.28,317.25 L266.76,317.74 L267.23,318.22 L267.7,318.71 L268.16,319.2 L268.6,319.69 L269.04,320.19 L269.48,320.68 L269.9,321.18 L270.31,321.68 L270.72,322.18 L271.12,322.69 L271.5,323.19 L271.88,323.7 L272.25,324.21 L272.62,324.72 L272.97,325.24 L273.31,325.75 L273.65,326.27 L273.98,326.79 L274.29,327.31 L274.6,327.83 L274.9,328.35 L275.19,328.88 L275.47,329.41 L275.74,329.93 L276.01,330.46 L276.26,330.99 L276.5,331.52 L276.74,332.06 L276.97,332.59 L277.18,333.13 L277.39,333.67 Z" fill="#503862" stroke="#503862" stroke-width="0.5" stroke-linejoin="round"/>
<path d="M148,340.6 L277.39,333.67 L277.59,334.2 L277.77,334.74 L277.95,335.28 Z" fill="#077080" stroke="#077080" stroke-width="0.5" stroke-linejoin="round"/>
<path d="M148,340.6 L277.95,335.28 L278.12,335.82 L278.28,336.37 L278.43,336.91 L278.57,337.45 L278.7,338 L278.82,338.55 L278.93,339.09 L279.03,339.64 L279.12,340.19 L279.2,340.74 L279.28,341.29 L279.34,341.84 L279.39,342.39 L279.43,342.94 L279.46,343.49 L279.49,344.04 L279.5,344.6 L279.5,345.15 L279.49,345.7 L279.47,346.26 L279.45,346.81 L279.41,347.36 L279.36,347.92 L279.3,348.47 Z" fill="#c66a2b" stroke="#c66a2b" stroke-width="0.5" stroke-linejoin="round"/>
<path d="M148,340.6 L279.3,348.47 L279.24,349.03 L279.16,349.58 L279.07,350.14 L278.97,350.69 L278.86,351.25 L278.74,351.8 L278.62,352.35 L278.48,352.91 L278.33,353.46 Z" fill="#135f93" stroke="#135f93" stroke-width="0.5" stroke-linejoin="round"/>
<path d="M148,340.6 L278.33,353.46 L278.17,354.01 L278,354.57 L277.82,355.12 L277.63,355.67 L277.43,356.22 L277.22,356.77 L277,357.32 L276.77,357.87 L276.53,358.42 Z" fill="#be3a3e" stroke="#be3a3e" stroke-width="0.5" stroke-linejoin="round"/>
<path d="M148,340.6 L276.53,358.42 L276.28,358.97 L276.02,359.52 L275.75,360.06 Z" fill="#85af4e" stroke="#85af4e" stroke-width="0.5" stroke-linejoin="round"/>
<path d="M148,340.6 L275.75,360.06 L275.46,360.61 L275.17,361.16 L274.87,361.7 L274.56,362.24 L274.24,362.78 L273.91,363.32 L273.56,363.86 L273.21,364.4 L272.85,364.94 L272.48,365.48 L272.09,366.01 L271.7,366.54 L271.3,367.08 L270.88,367.61 L270.46,368.14 L270.03,368.66 L269.59,369.19 L269.13,369.71 L268.67,370.23 L268.2,370.76 L267.72,371.27 L267.22,371.79 L266.72,372.31 L266.21,372.82 L265.69,373.33 L265.15,373.84 L264.61,374.35 L264.06,374.85 L263.5,375.36 L262.93,375.86 Z" fill="#644a76" stroke="#644a76" stroke-width="0.5" stroke-linejoin="round"/>
<path d="M148,340.6 L262.93,375.86 L262.35,376.36 L261.76,376.85 L261.16,377.35 L260.55,377.84 L259.93,378.33 L259.31,378.81 L258.67,379.3 L258.02,379.78 L257.37,380.26 L256.7,380.74 L256.03,381.21 L255.34,381.68 L254.65,382.15 L253.95,382.61 L253.24,383.08 L252.52,383.54 L251.79,383.99 L251.05,384.45 L250.3,384.9 L249.55,385.34 L248.78,385.79 L248.01,386.23 L247.23,386.67 L246.44,387.1 L245.64,387.53 L244.83,387.96 L244.02,388.39 L243.19,388.81 L242.36,389.23 L241.52,389.64 L240.67,390.05 L239.82,390.46 L238.95,390.86 L238.08,391.26 L237.2,391.66 L236.31,392.05 L235.41,392.44 L234.51,392.82 L233.6,393.21 L232.68,393.58 L231.75,393.96 L230.82,394.32 L229.88,394.69 L228.93,395.05 L227.97,395.41 L227.01,395.76 L226.04,396.11 L225.06,396.45 L224.08,396.79 L223.09,397.13 L222.09,397.46 L221.09,397.79 L220.08,398.11 L219.06,398.43 L218.04,398.74 L217.01,399.05 L215.97,399.36 L214.93,399.66 L213.88,399.96 L212.83,400.25 L211.77,400.53 L210.7,400.82 L209.63,401.09 L208.55,401.37 L207.47,401.63 L206.38,401.9 L205.29,402.16 L204.19,402.41 L203.09,402.66 L201.98,402.9 L200.87,403.14 L199.75,403.38 L198.63,403.6 L197.5,403.83 L196.37,404.05 L195.23,404.26 L194.09,404.47 L192.95,404.68 L191.8,404.87 L190.65,405.07 L189.49,405.26 L188.33,405.44 L187.17,405.62 L186,405.79 L184.83,405.96 L183.65,406.12 L182.48,406.28 L181.3,406.43 L180.11,406.58 L178.92,406.72 Z" fill="#0c879f" stroke="#0c879f" stroke-width="0.5" stroke-linejoin="round"/>
<path d="M148,340.6 L178.92,406.72 L177.73,406.86 L176.54,406.99 L175.35,407.11 Z" fill="#f88439" stroke="#f88439" stroke-width="0.5" stroke-linejoin="round"/>
<path d="M148,340.6 L175.35,407.11 L174.15,407.23 L172.95,407.35 L171.75,407.46 L170.54,407.56 L169.34,407.66 L168.13,407.75 L166.92,407.84 L165.7,407.92 L164.49,408 L163.27,408.07 L162.06,408.14 L160.84,408.2 L159.62,408.25 L158.4,408.3 L157.18,408.35 L155.96,408.38 L154.73,408.42 L153.51,408.44 L152.29,408.47 L151.06,408.48 L149.84,408.49 L148.61,408.5 L147.39,408.5 L146.16,408.49 L144.94,408.48 L143.71,408.47 L142.49,408.44 L141.27,408.42 L140.04,408.38 L138.82,408.35 L137.6,408.3 L136.38,408.25 L135.16,408.2 L133.94,408.14 L132.73,408.07 L131.51,408 L130.3,407.92 L129.08,407.84 L127.87,407.75 Z" fill="#196898" stroke="#196898" stroke-width="0.5" stroke-linejoin="round"/>
<path d="M148,340.6 L127.87,407.75 L126.66,407.66 L125.46,407.56 L124.25,407.46 L123.05,407.35 L121.85,407.23 L120.65,407.11 L119.46,406.99 L118.27,406.86 L117.08,406.72 L115.89,406.58 L114.7,406.43 L113.52,406.28 L112.35,406.12 L111.17,405.96 L110,405.79 L108.83,405.62 L107.67,405.44 L106.51,405.26 L105.35,405.07 L104.2,404.87 L103.05,404.68 L101.91,404.47 L100.77,404.26 L99.63,404.05 L98.5,403.83 L97.37,403.6 L96.25,403.38 L95.13,403.14 L94.02,402.9 L92.91,402.66 L91.81,402.41 L90.71,402.16 L89.62,401.9 L88.53,401.63 L87.45,401.37 L86.37,401.09 L85.3,400.82 L84.23,400.53 L83.17,400.25 L82.12,399.96 L81.07,399.66 L80.03,399.36 L78.99,399.05 L77.96,398.74 L76.94,398.43 L75.92,398.11 L74.91,397.79 L73.91,397.46 L72.91,397.13 L71.92,396.79 L70.94,396.45 L69.96,396.11 L68.99,395.76 L68.03,395.41 L67.07,395.05 L66.12,394.69 L65.18,394.32 L64.25,393.96 L63.32,393.58 L62.4,393.21 L61.49,392.82 L60.59,392.44 L59.69,392.05 L58.8,391.66 L57.92,391.26 L57.05,390.86 L56.18,390.46 L55.33,390.05 L54.48,389.64 L53.64,389.23 L52.81,388.81 L51.98,388.39 L51.17,387.96 L50.36,387.53 L49.56,387.1 L48.77,386.67 L47.99,386.23 L47.22,385.79 L46.45,385.34 L45.7,384.9 L44.95,384.45 L44.21,383.99 L43.48,383.54 L42.76,383.08 L42.05,382.61 L41.35,382.15 L40.66,381.68 Z" fill="#c44848" stroke="#c44848" stroke-width="0.5" stroke-linejoin="round"/>
<path d="M148,340.6 L40.66,381.68 L39.97,381.21 L39.3,380.74 L38.63,380.26 Z" fill="#86b050" stroke="#86b050" stroke-width="0.5" stroke-linejoin="round"/>
<path d="M148,340.6 L38.63,380.26 L37.98,379.78 L37.33,379.3 L36.69,378.81 Z" fill="#6f5189" stroke="#6f5189" stroke-width="0.5" stroke-linejoin="round"/>
<path d="M148,340.6 L36.69,378.81 L36.07,378.33 L35.45,377.84 L34.84,377.35 L34.24,376.85 L33.65,376.36 L33.07,375.86 L32.5,375.36 L31.94,374.85 L31.39,374.35 L30.85,373.84 L30.31,373.33 L29.79,372.82 L29.28,372.31 L28.78,371.79 L28.28,371.27 L27.8,370.76 L27.33,370.23 L26.87,369.71 L26.41,369.19 L25.97,368.66 L25.54,368.14 L25.12,367.61 L24.7,367.08 L24.3,366.54 L23.91,366.01 L23.52,365.48 L23.15,364.94 L22.79,364.4 L22.44,363.86 L22.09,363.32 L21.76,362.78 L21.44,362.24 L21.13,361.7 L20.83,361.16 L20.54,360.61 L20.25,360.06 L19.98,359.52 L19.72,358.97 L19.47,358.42 L19.23,357.87 L19,357.32 L18.78,356.77 L18.57,356.22 L18.37,355.67 L18.18,355.12 Z" fill="#0899af" stroke="#0899af" stroke-width="0.5" stroke-linejoin="round"/>
<path d="M148,340.6 L18.18,355.12 L18,354.57 L17.83,354.01 L17.67,353.46 L17.52,352.91 L17.38,352.35 L17.26,351.8 L17.14,351.25 L17.03,350.69 L16.93,350.14 L16.84,349.58 L16.76,349.03 L16.7,348.47 L16.64,347.92 L16.59,347.36 L16.55,346.81 L16.53,346.26 L16.51,345.7 L16.5,345.15 L16.5,344.6 L16.51,344.04 L16.54,343.49 Z" fill="#fc8a4a" stroke="#fc8a4a" stroke-width="0.5" stroke-linejoin="round"/>
<path d="M148,340.6 L16.54,343.49 L16.57,342.94 L16.61,342.39 L16.66,341.84 L16.72,341.29 L16.8,340.74 L16.88,340.19 L16.97,339.64 L17.07,339.09 L17.18,338.55 L17.3,338 L17.43,337.45 L17.57,336.91 L17.72,336.37 L17.88,335.82 L18.05,335.28 L18.23,334.74 L18.41,334.2 L18.61,333.67 L18.82,333.13 L19.03,332.59 L19.26,332.06 L19.5,331.52 L19.74,330.99 L19.99,330.46 L20.26,329.93 L20.53,329.41 L20.81,328.88 L21.1,328.35 L21.4,327.83 L21.71,327.31 Z" fill="#7e99b8" stroke="#7e99b8" stroke-width="0.5" stroke-linejoin="round"/>
<path d="M148,340.6 L21.71,327.31 L22.02,326.79 L22.35,326.27 L22.69,325.75 L23.03,325.24 L23.38,324.72 L23.75,324.21 L24.12,323.7 L24.5,323.19 L24.88,322.69 L25.28,322.18 L25.69,321.68 L26.1,321.18 L26.52,320.68 L26.96,320.19 L27.4,319.69 L27.84,319.2 L28.3,318.71 L28.77,318.22 L29.24,317.74 L29.72,317.25 L30.21,316.77 L30.71,316.29 L31.21,315.81 L31.73,315.34 L32.25,314.87 L32.78,314.4 L33.32,313.93 L33.86,313.47 L34.41,313 L34.97,312.54 L35.54,312.09 L36.12,311.63 L36.7,311.18 L37.29,310.73 L37.89,310.28 L38.5,309.84 L39.11,309.4 L39.73,308.96 L40.36,308.52 Z" fill="#db8583" stroke="#db8583" stroke-width="0.5" stroke-linejoin="round"/>
<path d="M148,340.6 L40.36,308.52 L41,308.09 L41.64,307.66 L42.29,307.23 L42.95,306.81 L43.61,306.38 L44.28,305.96 L44.96,305.55 L45.64,305.13 L46.34,304.72 Z" fill="#a8c48c" stroke="#a8c48c" stroke-width="0.5" stroke-linejoin="round"/>
<path d="M148,340.6 L46.34,304.72 L47.03,304.32 L47.74,303.91 L48.45,303.51 Z" fill="#9a85ae" stroke="#9a85ae" stroke-width="0.5" stroke-linejoin="round"/>
<path d="M148,340.6 L48.45,303.51 L49.17,303.11 L49.89,302.72 L50.62,302.33 L51.36,301.94 L52.1,301.55 L52.85,301.17 L53.61,300.79 L54.37,300.41 L55.14,300.04 L55.91,299.67 L56.69,299.3 L57.48,298.94 L58.27,298.58 L59.07,298.22 L59.87,297.87 L60.68,297.52 L61.5,297.17 L62.32,296.83 L63.14,296.49 L63.98,296.15 L64.81,295.82 L65.66,295.49 L66.5,295.17 L67.36,294.84 L68.21,294.52 L69.08,294.21 L69.94,293.9 Z" fill="#71b1c2" stroke="#71b1c2" stroke-width="0.5" stroke-linejoin="round"/>
<path d="M148,340.6 L69.94,293.9 L70.82,293.59 L71.7,293.28 L72.58,292.98 Z" fill="#f6a57e" stroke="#f6a57e" stroke-width="0.5" stroke-linejoin="round"/>
<path d="M148,340.6 L72.58,292.98 L73.47,292.69 L74.36,292.39 L75.25,292.1 L76.16,291.81 L77.06,291.53 L77.97,291.25 L78.89,290.98 L79.81,290.71 L80.73,290.44 L81.66,290.17 L82.59,289.91 L83.53,289.66 L84.47,289.4 L85.41,289.15 L86.36,288.91 L87.31,288.67 L88.27,288.43 L89.23,288.2 Z" fill="#abbcd0" stroke="#abbcd0" stroke-width="0.5" stroke-linejoin="round"/>
<path d="M148,340.6 L89.23,288.2 L90.19,287.97 L91.16,287.74 L92.13,287.52 L93.1,287.3 L94.08,287.08 L95.06,286.87 L96.04,286.67 L97.03,286.46 L98.02,286.27 Z" fill="#e6b3b1" stroke="#e6b3b1" stroke-width="0.5" stroke-linejoin="round"/>
<path d="M148,340.6 L98.02,286.27 L99.01,286.07 L100.01,285.88 L101.01,285.69 L102.01,285.51 L103.01,285.33 L104.02,285.16 L105.03,284.99 L106.04,284.82 L107.06,284.66 L108.08,284.5 L109.1,284.34 L110.12,284.19 L111.15,284.04 L112.17,283.9 L113.2,283.76 L114.24,283.63 L115.27,283.5 L116.31,283.37 L117.34,283.25 L118.38,283.13 L119.43,283.02 L120.47,282.91 L121.51,282.8 L122.56,282.7 Z" fill="#c5d3b6" stroke="#c5d3b6" stroke-width="0.5" stroke-linejoin="round"/>
<path d="M148,340.6 L122.56,282.7 L123.61,282.6 L124.66,282.51 L125.71,282.42 L126.76,282.33 L127.82,282.25 L128.87,282.18 L129.93,282.1 L130.99,282.03 L132.04,281.97 L133.1,281.91 L134.16,281.85 L135.22,281.8 L136.29,281.75 L137.35,281.71 L138.41,281.67 L139.48,281.63 L140.54,281.6 L141.61,281.58 L142.67,281.55 L143.74,281.53 L144.8,281.52 L145.87,281.51 L146.93,281.5 L148,281.5 Z" fill="#c8b7c9" stroke="#c8b7c9" stroke-width="0.5" stroke-linejoin="round"/>
</g>
<g style="font-family:'Liberation Sans',sans-serif;font-size:8.4px" fill="#111" stroke="#111" stroke-width="0.12">
<rect x="324.2" y="14.8" width="5" height="5" fill="#124f77"/>
<text x="331.3" y="19.6" textLength="51.3" lengthAdjust="spacingAndGlyphs">Bladder(6/149)</text>
<rect x="324.2" y="30.06" width="5" height="5" fill="#912d31"/>
<text x="331.3" y="34.86" textLength="48.7" lengthAdjust="spacingAndGlyphs">Blood(21/701)</text>
<rect x="324.2" y="45.32" width="5" height="5" fill="#6b803b"/>
<text x="331.3" y="50.12" textLength="51.1" lengthAdjust="spacingAndGlyphs">Brain(15/1410)</text>
<rect x="324.2" y="60.58" width="5" height="5" fill="#503862"/>
<text x="331.3" y="65.38" textLength="55.2" lengthAdjust="spacingAndGlyphs">Breast(14/8736)</text>
<rect x="324.2" y="75.84" width="5" height="5" fill="#077080"/>
<text x="331.3" y="80.64" textLength="51.3" lengthAdjust="spacingAndGlyphs">CD14 cells(1/5)</text>
<rect x="324.2" y="91.1" width="5" height="5" fill="#c66a2b"/>
<text x="331.3" y="95.9" textLength="46.2" lengthAdjust="spacingAndGlyphs">Cervix(8/112)</text>
<rect x="324.2" y="106.36" width="5" height="5" fill="#135f93"/>
<text x="331.3" y="111.16" textLength="44.5" lengthAdjust="spacingAndGlyphs">Colon(3/545)</text>
<rect x="324.2" y="121.62" width="5" height="5" fill="#be3a3e"/>
<text x="331.3" y="126.42" textLength="56.4" lengthAdjust="spacingAndGlyphs">Esophagus(3/24)</text>
<rect x="324.2" y="136.88" width="5" height="5" fill="#85af4e"/>
<text x="331.3" y="141.68" textLength="44.1" lengthAdjust="spacingAndGlyphs">Gastric(1/30)</text>
<rect x="324.2" y="152.14" width="5" height="5" fill="#644a76"/>
<text x="331.3" y="156.94" textLength="84.3" lengthAdjust="spacingAndGlyphs">Head and Neck(10/2337)</text>
<rect x="324.2" y="167.4" width="5" height="5" fill="#0c879f"/>
<text x="331.3" y="172.2" textLength="56.6" lengthAdjust="spacingAndGlyphs">Kidney(30/5013)</text>
<rect x="324.2" y="182.66" width="5" height="5" fill="#f88439"/>
<text x="331.3" y="187.46" textLength="47.8" lengthAdjust="spacingAndGlyphs">Ligament(1/8)</text>
<rect x="324.2" y="197.92" width="5" height="5" fill="#196898"/>
<text x="331.3" y="202.72" textLength="45.9" lengthAdjust="spacingAndGlyphs">Liver(13/368)</text>
<rect x="324.2" y="213.18" width="5" height="5" fill="#c44848"/>
<text x="331.3" y="217.98" textLength="49.9" lengthAdjust="spacingAndGlyphs">Lung(29/3463)</text>
<rect x="324.2" y="228.44" width="5" height="5" fill="#86b050"/>
<text x="331.3" y="233.24" textLength="39.2" lengthAdjust="spacingAndGlyphs">Lymph(1/6)</text>
<rect x="324.2" y="243.7" width="5" height="5" fill="#6f5189"/>
<text x="331.3" y="248.5" textLength="52.7" lengthAdjust="spacingAndGlyphs">Melanoma(1/8)</text>
<rect x="324.2" y="258.96" width="5" height="5" fill="#0899af"/>
<text x="331.3" y="263.76" textLength="82.2" lengthAdjust="spacingAndGlyphs">Multiple tissues(15/429)</text>
<rect x="324.2" y="274.22" width="5" height="5" fill="#fc8a4a"/>
<text x="331.3" y="279.02" textLength="55.5" lengthAdjust="spacingAndGlyphs">Ovarian(7/1674)</text>
<rect x="324.2" y="289.48" width="5" height="5" fill="#7e99b8"/>
<text x="331.3" y="294.28" textLength="79.4" lengthAdjust="spacingAndGlyphs">Pancreatic islet(10/123)</text>
<rect x="324.2" y="304.74" width="5" height="5" fill="#db8583"/>
<text x="331.3" y="309.54" textLength="57.3" lengthAdjust="spacingAndGlyphs">Prostate(13/766)</text>
<rect x="324.2" y="320" width="5" height="5" fill="#a8c48c"/>
<text x="331.3" y="324.8" textLength="51.3" lengthAdjust="spacingAndGlyphs">Rectum(3/161)</text>
<rect x="324.2" y="335.26" width="5" height="5" fill="#9a85ae"/>
<text x="331.3" y="340.06" textLength="46.2" lengthAdjust="spacingAndGlyphs">Skeleton(1/8)</text>
<rect x="324.2" y="350.52" width="5" height="5" fill="#71b1c2"/>
<text x="331.3" y="355.32" textLength="38.7" lengthAdjust="spacingAndGlyphs">Skin(9/662)</text>
<rect x="324.2" y="365.78" width="5" height="5" fill="#f6a57e"/>
<text x="331.3" y="370.58" textLength="38.7" lengthAdjust="spacingAndGlyphs">Sperm(1/6)</text>
<rect x="324.2" y="381.04" width="5" height="5" fill="#abbcd0"/>
<text x="331.3" y="385.84" textLength="59" lengthAdjust="spacingAndGlyphs">Stem cells(6/146)</text>
<rect x="324.2" y="396.3" width="5" height="5" fill="#e6b3b1"/>
<text x="331.3" y="401.1" textLength="42.7" lengthAdjust="spacingAndGlyphs">Testes(3/28)</text>
<rect x="324.2" y="411.56" width="5" height="5" fill="#c5d3b6"/>
<text x="331.3" y="416.36" textLength="50.8" lengthAdjust="spacingAndGlyphs">Thyroid(8/627)</text>
<rect x="324.2" y="426.82" width="5" height="5" fill="#c8b7c9"/>
<text x="331.3" y="431.62" textLength="52" lengthAdjust="spacingAndGlyphs">Uterus(8/1467)</text>
</g>
</svg>
</body></html>
